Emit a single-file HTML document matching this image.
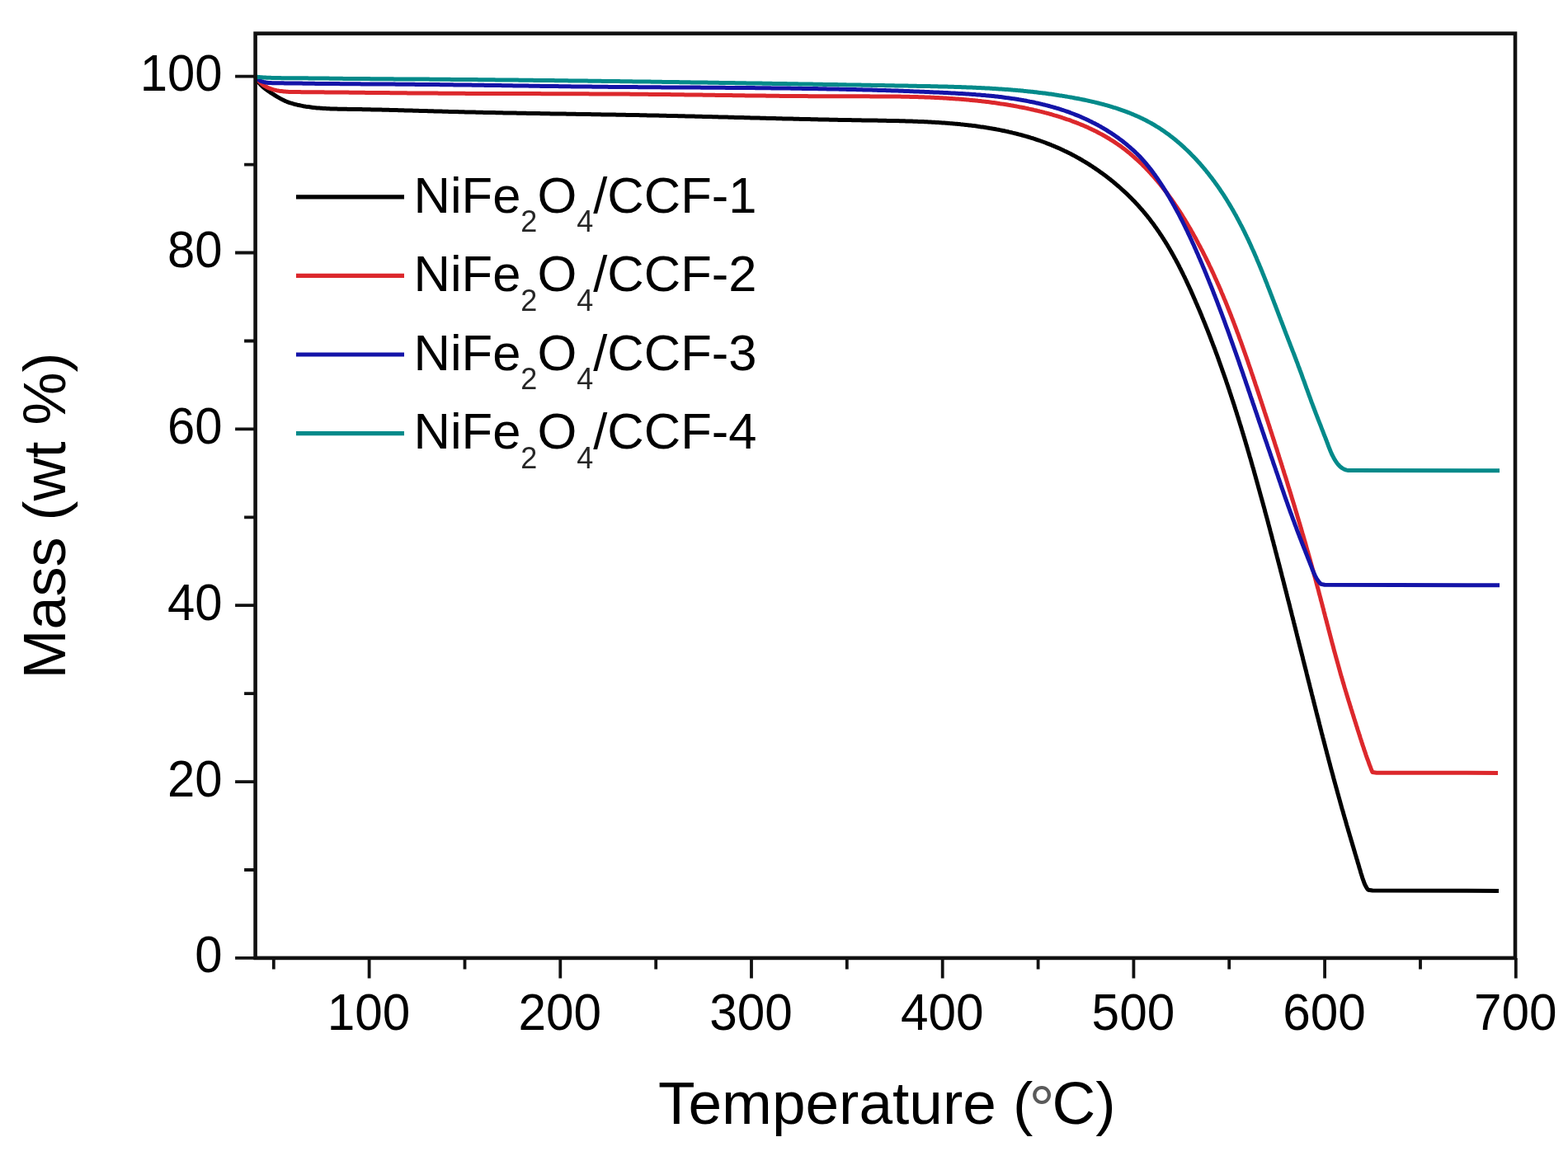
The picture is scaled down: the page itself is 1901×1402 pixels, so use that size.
<!DOCTYPE html>
<html><head><meta charset="utf-8"><title>TGA curves</title>
<style>html,body{margin:0;padding:0;background:#fff;}svg{display:block;}</style>
</head><body>
<svg width="1901" height="1402" viewBox="0 0 1901 1402"><rect width="1901" height="1402" fill="#fff"/><path d="M310.0,93.0L310.5,94.5L311.1,95.8L311.8,97.2L312.5,98.4L313.4,99.7L314.3,100.8L315.3,101.9L316.3,103.0L317.4,104.1L318.5,105.1L319.6,106.1L320.7,107.0L321.9,107.9L323.1,108.8L324.3,109.7L325.5,110.6L326.8,111.4L328.0,112.3L329.3,113.1L330.6,113.9L331.8,114.7L333.1,115.5L334.4,116.3L335.7,117.1L337.0,117.9L338.3,118.6L339.6,119.4L340.9,120.1L342.2,120.8L343.6,121.4L344.9,122.1L346.3,122.7L347.7,123.3L349.1,123.8L350.5,124.3L351.9,124.8L353.3,125.2L354.8,125.7L356.2,126.1L357.7,126.5L359.1,126.8L360.6,127.2L362.0,127.5L363.5,127.8L365.0,128.1L366.4,128.4L367.9,128.7L369.4,128.9L370.8,129.2L372.3,129.4L373.8,129.6L375.3,129.8L376.8,130.0L378.2,130.2L379.7,130.4L381.2,130.6L382.7,130.7L384.2,130.9L385.7,131.0L387.2,131.1L388.7,131.2L390.2,131.3L391.7,131.4L393.1,131.5L394.6,131.6L396.1,131.7L397.6,131.8L399.1,131.8L400.6,131.9L402.1,132.0L403.6,132.0L405.2,132.1L406.7,132.1L408.2,132.1L409.7,132.2L411.2,132.2L412.7,132.2L414.2,132.3L415.7,132.3L417.2,132.3L418.7,132.3L420.2,132.3L421.7,132.4L423.2,132.4L424.7,132.4L426.2,132.4L427.7,132.5L429.2,132.5L430.7,132.5L432.2,132.5L433.7,132.5L435.2,132.6L436.7,132.6L438.2,132.6L439.7,132.7L441.2,132.7L442.7,132.7L444.2,132.7L445.7,132.8L447.2,132.8L448.7,132.8L450.2,132.9L451.7,132.9L453.2,132.9L454.7,133.0L456.2,133.0L457.7,133.0L459.2,133.1L460.7,133.1L462.2,133.1L463.7,133.2L465.2,133.2L466.7,133.2L468.2,133.3L469.7,133.3L471.2,133.3L472.7,133.4L474.2,133.4L475.7,133.5L477.2,133.5L478.7,133.5L480.2,133.6L481.6,133.6L483.1,133.7L484.6,133.7L486.1,133.7L487.6,133.8L489.1,133.8L490.6,133.9L492.1,133.9L493.6,133.9L495.1,134.0L496.6,134.0L498.1,134.1L499.6,134.1L501.1,134.2L502.6,134.2L504.1,134.2L505.6,134.3L507.0,134.3L508.5,134.4L510.0,134.4L511.5,134.4L513.0,134.5L514.5,134.5L516.0,134.6L517.5,134.6L519.0,134.7L520.5,134.7L522.0,134.7L523.5,134.8L525.0,134.8L526.5,134.9L528.0,134.9L529.5,135.0L531.0,135.0L532.5,135.0L533.9,135.1L535.4,135.1L536.9,135.2L538.4,135.2L539.9,135.2L541.4,135.3L542.9,135.3L544.4,135.4L545.9,135.4L547.4,135.4L548.9,135.5L550.4,135.5L551.9,135.6L553.4,135.6L554.9,135.6L556.4,135.7L557.9,135.7L559.4,135.7L560.9,135.8L562.4,135.8L563.9,135.9L565.4,135.9L566.9,135.9L568.4,136.0L569.9,136.0L571.4,136.0L572.9,136.1L574.4,136.1L575.9,136.1L577.4,136.2L578.9,136.2L580.4,136.2L581.9,136.3L583.4,136.3L584.9,136.3L586.4,136.4L587.9,136.4L589.4,136.4L590.9,136.5L592.4,136.5L593.9,136.5L595.4,136.6L596.9,136.6L598.4,136.6L599.9,136.6L601.4,136.7L602.9,136.7L604.4,136.7L605.9,136.8L607.4,136.8L608.9,136.8L610.4,136.9L611.9,136.9L613.4,136.9L615.0,136.9L616.5,137.0L618.0,137.0L619.5,137.0L621.0,137.0L622.5,137.1L624.0,137.1L625.5,137.1L627.0,137.2L628.5,137.2L630.0,137.2L631.5,137.2L633.0,137.3L634.5,137.3L636.0,137.3L637.5,137.3L639.0,137.4L640.5,137.4L642.0,137.4L643.5,137.5L645.0,137.5L646.6,137.5L648.1,137.5L649.6,137.6L651.1,137.6L652.6,137.6L654.1,137.6L655.6,137.7L657.1,137.7L658.6,137.7L660.1,137.7L661.6,137.8L663.1,137.8L664.6,137.8L666.1,137.8L667.6,137.9L669.1,137.9L670.6,137.9L672.1,137.9L673.7,138.0L675.2,138.0L676.7,138.0L678.2,138.0L679.7,138.0L681.2,138.1L682.7,138.1L684.2,138.1L685.7,138.1L687.2,138.2L688.7,138.2L690.2,138.2L691.7,138.2L693.2,138.3L694.7,138.3L696.2,138.3L697.7,138.3L699.2,138.4L700.7,138.4L702.3,138.4L703.8,138.4L705.3,138.5L706.8,138.5L708.3,138.5L709.8,138.5L711.3,138.6L712.8,138.6L714.3,138.6L715.8,138.6L717.3,138.7L718.8,138.7L720.3,138.7L721.8,138.7L723.3,138.8L724.8,138.8L726.3,138.8L727.8,138.8L729.3,138.9L730.8,138.9L732.3,138.9L733.8,138.9L735.3,139.0L736.9,139.0L738.4,139.0L739.9,139.0L741.4,139.1L742.9,139.1L744.4,139.1L745.9,139.1L747.4,139.2L748.9,139.2L750.4,139.2L751.9,139.2L753.4,139.3L754.9,139.3L756.4,139.3L757.9,139.3L759.4,139.4L760.9,139.4L762.4,139.4L763.9,139.5L765.4,139.5L766.9,139.5L768.4,139.5L769.9,139.6L771.4,139.6L772.9,139.6L774.4,139.6L775.9,139.7L777.4,139.7L778.9,139.7L780.4,139.8L781.9,139.8L783.4,139.8L784.9,139.9L786.4,139.9L787.9,139.9L789.4,139.9L790.9,140.0L792.4,140.0L793.9,140.0L795.4,140.1L796.8,140.1L798.3,140.1L799.8,140.2L801.3,140.2L802.8,140.2L804.3,140.3L805.8,140.3L807.3,140.3L808.8,140.4L810.3,140.4L811.8,140.4L813.3,140.5L814.8,140.5L816.3,140.5L817.8,140.6L819.3,140.6L820.8,140.6L822.3,140.7L823.7,140.7L825.2,140.7L826.7,140.8L828.2,140.8L829.7,140.8L831.2,140.9L832.7,140.9L834.2,140.9L835.7,141.0L837.2,141.0L838.7,141.0L840.2,141.1L841.7,141.1L843.1,141.2L844.6,141.2L846.1,141.2L847.6,141.3L849.1,141.3L850.6,141.3L852.1,141.4L853.6,141.4L855.1,141.4L856.6,141.5L858.0,141.5L859.5,141.6L861.0,141.6L862.5,141.6L864.0,141.7L865.5,141.7L867.0,141.8L868.5,141.8L870.0,141.8L871.5,141.9L872.9,141.9L874.4,141.9L875.9,142.0L877.4,142.0L878.9,142.1L880.4,142.1L881.9,142.1L883.4,142.2L884.9,142.2L886.4,142.2L887.8,142.3L889.3,142.3L890.8,142.4L892.3,142.4L893.8,142.4L895.3,142.5L896.8,142.5L898.3,142.6L899.8,142.6L901.3,142.6L902.7,142.7L904.2,142.7L905.7,142.8L907.2,142.8L908.7,142.8L910.2,142.9L911.7,142.9L913.2,142.9L914.7,143.0L916.2,143.0L917.7,143.1L919.1,143.1L920.6,143.1L922.1,143.2L923.6,143.2L925.1,143.3L926.6,143.3L928.1,143.3L929.6,143.4L931.1,143.4L932.6,143.4L934.1,143.5L935.6,143.5L937.0,143.6L938.5,143.6L940.0,143.6L941.5,143.7L943.0,143.7L944.5,143.7L946.0,143.8L947.5,143.8L949.0,143.9L950.5,143.9L952.0,143.9L953.5,144.0L955.0,144.0L956.5,144.0L958.0,144.1L959.5,144.1L960.9,144.1L962.4,144.2L963.9,144.2L965.4,144.3L966.9,144.3L968.4,144.3L969.9,144.4L971.4,144.4L972.9,144.4L974.4,144.5L975.9,144.5L977.4,144.5L978.9,144.6L980.4,144.6L981.9,144.6L983.4,144.7L984.9,144.7L986.4,144.7L987.9,144.8L989.4,144.8L990.9,144.8L992.4,144.9L993.9,144.9L995.4,144.9L996.9,145.0L998.4,145.0L999.9,145.0L1001.4,145.1L1002.9,145.1L1004.4,145.1L1005.9,145.2L1007.4,145.2L1008.9,145.2L1010.4,145.2L1011.9,145.3L1013.5,145.3L1015.0,145.3L1016.5,145.4L1018.0,145.4L1019.5,145.4L1021.0,145.5L1022.5,145.5L1024.0,145.5L1025.5,145.5L1027.0,145.6L1028.5,145.6L1030.0,145.6L1031.5,145.6L1033.1,145.7L1034.6,145.7L1036.1,145.7L1037.6,145.7L1039.1,145.8L1040.6,145.8L1042.1,145.8L1043.6,145.8L1045.2,145.9L1046.7,145.9L1048.2,145.9L1049.7,145.9L1051.2,146.0L1052.7,146.0L1054.2,146.0L1055.8,146.0L1057.3,146.1L1058.8,146.1L1060.3,146.1L1061.8,146.1L1063.3,146.1L1064.9,146.2L1066.4,146.2L1067.9,146.2L1069.4,146.2L1070.9,146.3L1072.5,146.3L1074.0,146.3L1075.5,146.4L1077.0,146.4L1078.5,146.4L1080.1,146.4L1081.6,146.5L1083.1,146.5L1084.6,146.5L1086.1,146.6L1087.7,146.6L1089.2,146.6L1090.7,146.7L1092.2,146.7L1093.7,146.7L1095.2,146.8L1096.8,146.8L1098.3,146.9L1099.8,146.9L1101.3,147.0L1102.8,147.0L1104.4,147.1L1105.9,147.1L1107.4,147.2L1108.9,147.2L1110.4,147.3L1111.9,147.3L1113.5,147.4L1115.0,147.4L1116.5,147.5L1118.0,147.6L1119.5,147.6L1121.0,147.7L1122.5,147.8L1124.1,147.8L1125.6,147.9L1127.1,148.0L1128.6,148.1L1130.1,148.2L1131.6,148.2L1133.1,148.3L1134.6,148.4L1136.1,148.5L1137.7,148.6L1139.2,148.7L1140.7,148.8L1142.2,148.9L1143.7,149.0L1145.2,149.1L1146.7,149.2L1148.2,149.3L1149.7,149.4L1151.2,149.6L1152.7,149.7L1154.2,149.8L1155.7,149.9L1157.2,150.1L1158.7,150.2L1160.2,150.3L1161.7,150.5L1163.2,150.6L1164.7,150.8L1166.2,150.9L1167.7,151.1L1169.1,151.2L1170.6,151.4L1172.1,151.6L1173.6,151.7L1175.1,151.9L1176.6,152.1L1178.1,152.3L1179.6,152.5L1181.0,152.6L1182.5,152.8L1184.0,153.0L1185.5,153.2L1187.0,153.4L1188.4,153.7L1189.9,153.9L1191.4,154.1L1192.9,154.3L1194.3,154.5L1195.8,154.8L1197.3,155.0L1198.7,155.2L1200.2,155.5L1201.7,155.7L1203.1,156.0L1204.6,156.2L1206.0,156.5L1207.5,156.8L1209.0,157.1L1210.4,157.3L1211.9,157.6L1213.3,157.9L1214.8,158.2L1216.2,158.5L1217.7,158.8L1219.1,159.1L1220.6,159.4L1222.0,159.7L1223.5,160.1L1224.9,160.4L1226.3,160.7L1227.8,161.1L1229.2,161.4L1230.6,161.8L1232.1,162.1L1233.5,162.5L1234.9,162.9L1236.4,163.2L1237.8,163.6L1239.2,164.0L1240.6,164.4L1242.0,164.8L1243.5,165.2L1244.9,165.6L1246.3,166.0L1247.7,166.4L1249.1,166.9L1250.5,167.3L1251.9,167.7L1253.3,168.2L1254.7,168.6L1256.1,169.1L1257.5,169.6L1258.9,170.0L1260.3,170.5L1261.7,171.0L1263.1,171.5L1264.5,172.0L1265.9,172.5L1267.3,173.0L1268.6,173.6L1270.0,174.1L1271.4,174.6L1272.8,175.2L1274.1,175.7L1275.5,176.3L1276.9,176.8L1278.2,177.4L1279.6,178.0L1281.0,178.6L1282.3,179.1L1283.7,179.7L1285.0,180.3L1286.4,181.0L1287.7,181.6L1289.1,182.2L1290.4,182.9L1291.7,183.5L1293.1,184.1L1294.4,184.8L1295.8,185.5L1297.1,186.1L1298.4,186.8L1299.7,187.5L1301.1,188.2L1302.4,188.9L1303.7,189.6L1305.0,190.3L1306.3,191.1L1307.6,191.8L1308.9,192.5L1310.2,193.3L1311.5,194.0L1312.8,194.8L1314.1,195.6L1315.4,196.3L1316.7,197.1L1317.9,197.9L1319.2,198.7L1320.5,199.5L1321.8,200.3L1323.0,201.1L1324.3,201.9L1325.5,202.8L1326.8,203.6L1328.0,204.5L1329.3,205.3L1330.5,206.2L1331.7,207.0L1333.0,207.9L1334.2,208.8L1335.4,209.6L1336.7,210.5L1337.9,211.4L1339.1,212.3L1340.3,213.2L1341.5,214.1L1342.7,215.1L1343.9,216.0L1345.1,216.9L1346.2,217.8L1347.4,218.8L1348.6,219.7L1349.8,220.7L1350.9,221.7L1352.1,222.6L1353.2,223.6L1354.4,224.6L1355.5,225.6L1356.7,226.5L1357.8,227.5L1358.9,228.5L1360.0,229.6L1361.2,230.6L1362.3,231.6L1363.4,232.6L1364.5,233.6L1365.6,234.7L1366.7,235.7L1367.8,236.8L1368.8,237.8L1369.9,238.9L1371.0,239.9L1372.0,241.0L1373.1,242.1L1374.1,243.2L1375.2,244.2L1376.2,245.3L1377.2,246.4L1378.3,247.5L1379.3,248.6L1380.3,249.7L1381.3,250.9L1382.3,252.0L1383.3,253.1L1384.3,254.2L1385.3,255.4L1386.2,256.5L1387.2,257.7L1388.2,258.8L1389.1,260.0L1390.1,261.1L1391.0,262.3L1391.9,263.5L1392.9,264.6L1393.8,265.8L1394.7,267.0L1395.6,268.2L1396.5,269.4L1397.4,270.6L1398.3,271.8L1399.2,273.0L1400.0,274.2L1400.9,275.4L1401.8,276.6L1402.6,277.8L1403.5,279.1L1404.3,280.3L1405.2,281.5L1406.0,282.8L1406.8,284.0L1407.7,285.3L1408.5,286.5L1409.3,287.8L1410.1,289.0L1410.9,290.3L1411.7,291.5L1412.5,292.8L1413.3,294.1L1414.1,295.4L1414.9,296.6L1415.6,297.9L1416.4,299.2L1417.2,300.5L1417.9,301.8L1418.7,303.1L1419.4,304.4L1420.2,305.7L1420.9,307.0L1421.6,308.3L1422.4,309.6L1423.1,310.9L1423.8,312.2L1424.5,313.5L1425.3,314.8L1426.0,316.2L1426.7,317.5L1427.4,318.8L1428.1,320.1L1428.8,321.5L1429.5,322.8L1430.1,324.1L1430.8,325.5L1431.5,326.8L1432.2,328.2L1432.8,329.5L1433.5,330.8L1434.2,332.2L1434.8,333.5L1435.5,334.9L1436.2,336.2L1436.8,337.6L1437.5,339.0L1438.1,340.3L1438.7,341.7L1439.4,343.0L1440.0,344.4L1440.6,345.8L1441.3,347.1L1441.9,348.5L1442.5,349.9L1443.2,351.2L1443.8,352.6L1444.4,354.0L1445.0,355.4L1445.6,356.7L1446.2,358.1L1446.8,359.5L1447.4,360.9L1448.0,362.2L1448.6,363.6L1449.2,365.0L1449.8,366.4L1450.4,367.8L1451.0,369.1L1451.6,370.5L1452.2,371.9L1452.8,373.3L1453.4,374.7L1454.0,376.1L1454.6,377.4L1455.1,378.8L1455.7,380.2L1456.3,381.6L1456.9,383.0L1457.4,384.4L1458.0,385.8L1458.6,387.2L1459.1,388.5L1459.7,389.9L1460.3,391.3L1460.8,392.7L1461.4,394.1L1461.9,395.5L1462.5,396.9L1463.1,398.3L1463.6,399.7L1464.2,401.1L1464.7,402.5L1465.3,403.9L1465.8,405.3L1466.4,406.7L1466.9,408.1L1467.4,409.5L1468.0,410.9L1468.5,412.3L1469.0,413.7L1469.6,415.1L1470.1,416.5L1470.6,417.9L1471.2,419.3L1471.7,420.7L1472.2,422.1L1472.8,423.5L1473.3,424.9L1473.8,426.3L1474.3,427.7L1474.8,429.1L1475.4,430.5L1475.9,431.9L1476.4,433.3L1476.9,434.7L1477.4,436.1L1477.9,437.6L1478.4,439.0L1478.9,440.4L1479.4,441.8L1479.9,443.2L1480.4,444.6L1480.9,446.0L1481.4,447.4L1481.9,448.9L1482.4,450.3L1482.9,451.7L1483.4,453.1L1483.9,454.5L1484.4,455.9L1484.9,457.3L1485.4,458.8L1485.9,460.2L1486.4,461.6L1486.8,463.0L1487.3,464.4L1487.8,465.8L1488.3,467.3L1488.8,468.7L1489.2,470.1L1489.7,471.5L1490.2,472.9L1490.7,474.4L1491.1,475.8L1491.6,477.2L1492.1,478.6L1492.5,480.1L1493.0,481.5L1493.5,482.9L1493.9,484.3L1494.4,485.7L1494.9,487.2L1495.3,488.6L1495.8,490.0L1496.3,491.4L1496.7,492.9L1497.2,494.3L1497.6,495.7L1498.1,497.2L1498.5,498.6L1499.0,500.0L1499.4,501.4L1499.9,502.9L1500.3,504.3L1500.8,505.7L1501.2,507.2L1501.7,508.6L1502.1,510.0L1502.6,511.5L1503.0,512.9L1503.4,514.3L1503.9,515.7L1504.3,517.2L1504.8,518.6L1505.2,520.0L1505.6,521.5L1506.1,522.9L1506.5,524.3L1506.9,525.8L1507.4,527.2L1507.8,528.6L1508.2,530.1L1508.7,531.5L1509.1,533.0L1509.5,534.4L1510.0,535.8L1510.4,537.3L1510.8,538.7L1511.2,540.1L1511.7,541.6L1512.1,543.0L1512.5,544.4L1512.9,545.9L1513.3,547.3L1513.8,548.8L1514.2,550.2L1514.6,551.6L1515.0,553.1L1515.4,554.5L1515.9,556.0L1516.3,557.4L1516.7,558.8L1517.1,560.3L1517.5,561.7L1517.9,563.2L1518.3,564.6L1518.7,566.0L1519.2,567.5L1519.6,568.9L1520.0,570.4L1520.4,571.8L1520.8,573.3L1521.2,574.7L1521.6,576.1L1522.0,577.6L1522.4,579.0L1522.8,580.5L1523.2,581.9L1523.6,583.4L1524.0,584.8L1524.4,586.2L1524.8,587.7L1525.2,589.1L1525.6,590.6L1526.0,592.0L1526.4,593.5L1526.8,594.9L1527.2,596.4L1527.6,597.8L1528.0,599.3L1528.4,600.7L1528.8,602.1L1529.2,603.6L1529.6,605.0L1530.0,606.5L1530.4,607.9L1530.8,609.4L1531.2,610.8L1531.6,612.3L1532.0,613.7L1532.4,615.2L1532.8,616.6L1533.2,618.1L1533.5,619.5L1533.9,621.0L1534.3,622.4L1534.7,623.9L1535.1,625.3L1535.5,626.7L1535.9,628.2L1536.3,629.6L1536.7,631.1L1537.1,632.5L1537.4,634.0L1537.8,635.4L1538.2,636.9L1538.6,638.3L1539.0,639.8L1539.4,641.2L1539.8,642.7L1540.1,644.1L1540.5,645.6L1540.9,647.0L1541.3,648.5L1541.7,649.9L1542.1,651.4L1542.4,652.8L1542.8,654.3L1543.2,655.7L1543.6,657.2L1544.0,658.6L1544.3,660.1L1544.7,661.5L1545.1,663.0L1545.5,664.4L1545.9,665.9L1546.2,667.3L1546.6,668.8L1547.0,670.3L1547.4,671.7L1547.8,673.2L1548.1,674.6L1548.5,676.1L1548.9,677.5L1549.3,679.0L1549.6,680.4L1550.0,681.9L1550.4,683.3L1550.8,684.8L1551.1,686.2L1551.5,687.7L1551.9,689.1L1552.3,690.6L1552.6,692.0L1553.0,693.5L1553.4,694.9L1553.8,696.4L1554.1,697.8L1554.5,699.3L1554.9,700.8L1555.2,702.2L1555.6,703.7L1556.0,705.1L1556.4,706.6L1556.7,708.0L1557.1,709.5L1557.5,710.9L1557.8,712.4L1558.2,713.8L1558.6,715.3L1559.0,716.7L1559.3,718.2L1559.7,719.6L1560.1,721.1L1560.4,722.6L1560.8,724.0L1561.2,725.5L1561.5,726.9L1561.9,728.4L1562.3,729.8L1562.7,731.3L1563.0,732.7L1563.4,734.2L1563.8,735.6L1564.1,737.1L1564.5,738.6L1564.9,740.0L1565.2,741.5L1565.6,742.9L1566.0,744.4L1566.3,745.8L1566.7,747.3L1567.1,748.7L1567.4,750.2L1567.8,751.6L1568.2,753.1L1568.5,754.6L1568.9,756.0L1569.3,757.5L1569.6,758.9L1570.0,760.4L1570.4,761.8L1570.7,763.3L1571.1,764.7L1571.5,766.2L1571.8,767.6L1572.2,769.1L1572.5,770.6L1572.9,772.0L1573.3,773.5L1573.6,774.9L1574.0,776.4L1574.4,777.8L1574.7,779.3L1575.1,780.7L1575.5,782.2L1575.8,783.7L1576.2,785.1L1576.6,786.6L1576.9,788.0L1577.3,789.5L1577.7,790.9L1578.0,792.4L1578.4,793.8L1578.8,795.3L1579.1,796.7L1579.5,798.2L1579.8,799.7L1580.2,801.1L1580.6,802.6L1580.9,804.0L1581.3,805.5L1581.7,806.9L1582.0,808.4L1582.4,809.8L1582.8,811.3L1583.1,812.7L1583.5,814.2L1583.9,815.7L1584.2,817.1L1584.6,818.6L1584.9,820.0L1585.3,821.5L1585.7,822.9L1586.0,824.4L1586.4,825.8L1586.8,827.3L1587.1,828.7L1587.5,830.2L1587.9,831.6L1588.2,833.1L1588.6,834.6L1589.0,836.0L1589.3,837.5L1589.7,838.9L1590.1,840.4L1590.4,841.8L1590.8,843.3L1591.2,844.7L1591.5,846.2L1591.9,847.6L1592.3,849.1L1592.6,850.5L1593.0,852.0L1593.4,853.5L1593.7,854.9L1594.1,856.4L1594.5,857.8L1594.8,859.3L1595.2,860.7L1595.6,862.2L1595.9,863.6L1596.3,865.1L1596.7,866.5L1597.0,868.0L1597.4,869.4L1597.8,870.9L1598.2,872.3L1598.5,873.8L1598.9,875.2L1599.3,876.7L1599.6,878.1L1600.0,879.6L1600.4,881.1L1600.7,882.5L1601.1,884.0L1601.5,885.4L1601.9,886.9L1602.2,888.3L1602.6,889.8L1603.0,891.2L1603.4,892.7L1603.7,894.1L1604.1,895.6L1604.5,897.0L1604.9,898.5L1605.2,899.9L1605.6,901.4L1606.0,902.8L1606.4,904.3L1606.7,905.7L1607.1,907.2L1607.5,908.6L1607.9,910.1L1608.3,911.5L1608.6,913.0L1609.0,914.4L1609.4,915.9L1609.8,917.3L1610.2,918.8L1610.5,920.2L1610.9,921.7L1611.3,923.1L1611.7,924.6L1612.1,926.0L1612.5,927.5L1612.8,928.9L1613.2,930.4L1613.6,931.8L1614.0,933.3L1614.4,934.7L1614.8,936.2L1615.2,937.6L1615.6,939.1L1616.0,940.5L1616.3,942.0L1616.7,943.4L1617.1,944.9L1617.5,946.3L1617.9,947.7L1618.3,949.2L1618.7,950.6L1619.1,952.1L1619.5,953.5L1619.9,955.0L1620.3,956.4L1620.7,957.9L1621.1,959.3L1621.5,960.8L1621.9,962.2L1622.3,963.7L1622.7,965.1L1623.1,966.6L1623.5,968.0L1623.9,969.4L1624.3,970.9L1624.7,972.3L1625.1,973.8L1625.5,975.2L1625.9,976.7L1626.3,978.1L1626.7,979.6L1627.1,981.0L1627.6,982.5L1628.0,983.9L1628.4,985.3L1628.8,986.8L1629.2,988.2L1629.6,989.7L1630.0,991.1L1630.4,992.6L1630.9,994.0L1631.3,995.4L1631.7,996.9L1632.1,998.3L1632.5,999.8L1632.9,1001.2L1633.4,1002.7L1633.8,1004.1L1634.2,1005.5L1634.6,1007.0L1635.0,1008.4L1635.5,1009.9L1635.9,1011.3L1636.3,1012.7L1636.7,1014.2L1637.2,1015.6L1637.6,1017.0L1638.0,1018.5L1638.4,1019.9L1638.9,1021.4L1639.3,1022.8L1639.7,1024.2L1640.1,1025.7L1640.6,1027.1L1641.0,1028.5L1641.4,1030.0L1641.8,1031.4L1642.3,1032.8L1642.7,1034.3L1643.1,1035.7L1643.6,1037.2L1644.0,1038.6L1644.4,1040.0L1644.8,1041.5L1645.3,1042.9L1645.7,1044.3L1646.1,1045.8L1646.5,1047.2L1647.0,1048.6L1647.4,1050.1L1647.8,1051.5L1648.2,1053.0L1648.7,1054.4L1649.1,1055.8L1649.5,1057.3L1649.9,1058.7L1650.4,1060.2L1650.8,1061.6L1651.3,1063.0L1651.7,1064.5L1652.2,1065.9L1652.7,1067.3L1653.2,1068.7L1653.7,1070.1L1654.2,1071.5L1654.8,1072.9L1655.5,1074.2L1656.2,1075.6L1656.9,1076.8L1657.8,1078.1L1658.7,1079.2L1664.0,1079.9L1817.0,1080.4" fill="none" stroke="#000000" stroke-width="5.0" stroke-linejoin="round" stroke-linecap="butt"/><path d="M309.8,92.9L310.7,94.3L311.6,95.6L312.5,96.9L313.5,98.0L314.5,99.2L315.6,100.2L316.7,101.2L317.9,102.1L319.0,103.0L320.3,103.8L321.5,104.6L322.8,105.3L324.1,106.0L325.5,106.6L326.8,107.1L328.2,107.7L329.6,108.1L331.1,108.6L332.5,109.0L333.9,109.3L335.4,109.7L336.9,109.9L338.3,110.2L339.8,110.4L341.3,110.6L342.8,110.8L344.3,111.0L345.8,111.1L347.2,111.2L348.8,111.3L350.3,111.4L351.8,111.5L353.3,111.5L354.8,111.6L356.3,111.6L357.8,111.6L359.3,111.6L360.8,111.6L362.3,111.6L363.9,111.6L365.4,111.7L366.9,111.7L368.4,111.7L369.9,111.7L371.4,111.7L372.9,111.7L374.4,111.7L375.9,111.7L377.4,111.7L378.9,111.7L380.4,111.7L381.9,111.8L383.4,111.8L384.9,111.8L386.4,111.8L387.9,111.8L389.4,111.8L390.9,111.8L392.4,111.8L393.9,111.9L395.4,111.9L396.9,111.9L398.4,111.9L399.9,111.9L401.4,111.9L402.9,111.9L404.4,112.0L405.9,112.0L407.4,112.0L408.9,112.0L410.4,112.0L411.9,112.0L413.4,112.0L414.9,112.1L416.3,112.1L417.8,112.1L419.3,112.1L420.8,112.1L422.3,112.1L423.8,112.2L425.3,112.2L426.8,112.2L428.3,112.2L429.8,112.2L431.3,112.2L432.8,112.3L434.3,112.3L435.8,112.3L437.3,112.3L438.8,112.3L440.3,112.3L441.8,112.3L443.3,112.4L444.8,112.4L446.3,112.4L447.8,112.4L449.3,112.4L450.7,112.4L452.2,112.5L453.7,112.5L455.2,112.5L456.7,112.5L458.2,112.5L459.7,112.5L461.2,112.5L462.7,112.6L464.2,112.6L465.7,112.6L467.2,112.6L468.7,112.6L470.2,112.6L471.7,112.6L473.2,112.7L474.7,112.7L476.2,112.7L477.7,112.7L479.2,112.7L480.7,112.7L482.2,112.8L483.7,112.8L485.2,112.8L486.7,112.8L488.2,112.8L489.7,112.8L491.2,112.8L492.7,112.8L494.2,112.9L495.7,112.9L497.2,112.9L498.7,112.9L500.2,112.9L501.7,112.9L503.2,112.9L504.7,113.0L506.2,113.0L507.8,113.0L509.3,113.0L510.8,113.0L512.3,113.0L513.8,113.0L515.3,113.0L516.8,113.0L518.3,113.1L519.8,113.1L521.3,113.1L522.8,113.1L524.3,113.1L525.8,113.1L527.3,113.1L528.8,113.1L530.3,113.1L531.8,113.2L533.3,113.2L534.8,113.2L536.3,113.2L537.8,113.2L539.3,113.2L540.8,113.2L542.3,113.2L543.8,113.2L545.3,113.2L546.8,113.3L548.3,113.3L549.8,113.3L551.3,113.3L552.8,113.3L554.3,113.3L555.8,113.3L557.3,113.3L558.8,113.3L560.3,113.3L561.8,113.3L563.3,113.3L564.8,113.4L566.3,113.4L567.8,113.4L569.3,113.4L570.8,113.4L572.3,113.4L573.8,113.4L575.3,113.4L576.8,113.4L578.3,113.4L579.8,113.4L581.3,113.4L582.8,113.4L584.3,113.4L585.8,113.4L587.4,113.4L588.9,113.5L590.4,113.5L591.9,113.5L593.4,113.5L594.9,113.5L596.4,113.5L597.9,113.5L599.4,113.5L600.9,113.5L602.4,113.5L603.9,113.5L605.4,113.5L606.9,113.5L608.4,113.5L609.9,113.5L611.4,113.5L612.9,113.5L614.4,113.5L615.9,113.5L617.4,113.5L618.9,113.5L620.4,113.6L621.9,113.6L623.4,113.6L624.9,113.6L626.4,113.6L627.9,113.6L629.4,113.6L630.9,113.6L632.4,113.6L633.9,113.6L635.4,113.6L636.9,113.6L638.4,113.6L639.9,113.6L641.4,113.6L642.9,113.6L644.4,113.6L645.9,113.6L647.4,113.6L648.9,113.6L650.4,113.6L651.9,113.6L653.4,113.6L654.9,113.6L656.4,113.7L657.9,113.7L659.4,113.7L660.9,113.7L662.4,113.7L663.9,113.7L665.4,113.7L666.9,113.7L668.4,113.7L669.9,113.7L671.4,113.7L672.9,113.7L674.4,113.7L675.9,113.7L677.4,113.7L678.9,113.7L680.4,113.7L681.9,113.7L683.4,113.7L684.9,113.7L686.4,113.7L687.9,113.7L689.4,113.8L690.9,113.8L692.4,113.8L693.9,113.8L695.4,113.8L696.9,113.8L698.4,113.8L699.9,113.8L701.4,113.8L702.9,113.8L704.4,113.8L705.9,113.8L707.4,113.8L708.9,113.8L710.4,113.8L711.9,113.8L713.4,113.8L714.9,113.9L716.4,113.9L717.9,113.9L719.4,113.9L720.9,113.9L722.4,113.9L723.9,113.9L725.4,113.9L726.9,113.9L728.4,113.9L729.9,113.9L731.4,113.9L732.9,113.9L734.4,113.9L735.9,114.0L737.4,114.0L738.9,114.0L740.4,114.0L741.9,114.0L743.4,114.0L744.9,114.0L746.4,114.0L747.9,114.0L749.4,114.0L750.9,114.1L752.4,114.1L753.9,114.1L755.4,114.1L756.9,114.1L758.4,114.1L759.9,114.1L761.4,114.1L762.9,114.1L764.4,114.2L765.9,114.2L767.4,114.2L768.9,114.2L770.4,114.2L771.9,114.2L773.4,114.2L774.9,114.2L776.4,114.3L777.9,114.3L779.4,114.3L780.8,114.3L782.3,114.3L783.8,114.3L785.3,114.3L786.8,114.4L788.3,114.4L789.8,114.4L791.3,114.4L792.8,114.4L794.3,114.4L795.8,114.4L797.3,114.5L798.8,114.5L800.3,114.5L801.8,114.5L803.3,114.5L804.8,114.5L806.3,114.6L807.8,114.6L809.3,114.6L810.8,114.6L812.3,114.6L813.8,114.7L815.3,114.7L816.8,114.7L818.3,114.7L819.8,114.7L821.3,114.7L822.8,114.8L824.3,114.8L825.8,114.8L827.3,114.8L828.8,114.8L830.3,114.9L831.8,114.9L833.3,114.9L834.8,114.9L836.3,114.9L837.8,115.0L839.3,115.0L840.8,115.0L842.3,115.0L843.8,115.0L845.3,115.1L846.7,115.1L848.2,115.1L849.7,115.1L851.2,115.1L852.7,115.2L854.2,115.2L855.7,115.2L857.2,115.2L858.7,115.2L860.2,115.3L861.7,115.3L863.2,115.3L864.7,115.3L866.2,115.3L867.7,115.4L869.2,115.4L870.7,115.4L872.2,115.4L873.7,115.4L875.2,115.5L876.7,115.5L878.2,115.5L879.7,115.5L881.2,115.6L882.7,115.6L884.2,115.6L885.7,115.6L887.2,115.6L888.7,115.7L890.2,115.7L891.7,115.7L893.2,115.7L894.7,115.7L896.2,115.8L897.7,115.8L899.2,115.8L900.7,115.8L902.2,115.8L903.7,115.9L905.2,115.9L906.7,115.9L908.2,115.9L909.7,115.9L911.2,115.9L912.7,116.0L914.2,116.0L915.7,116.0L917.2,116.0L918.7,116.0L920.2,116.1L921.7,116.1L923.2,116.1L924.7,116.1L926.2,116.1L927.7,116.1L929.2,116.2L930.7,116.2L932.2,116.2L933.7,116.2L935.2,116.2L936.7,116.3L938.2,116.3L939.7,116.3L941.2,116.3L942.7,116.3L944.2,116.3L945.7,116.4L947.2,116.4L948.7,116.4L950.2,116.4L951.7,116.4L953.2,116.4L954.7,116.4L956.2,116.5L957.7,116.5L959.2,116.5L960.7,116.5L962.2,116.5L963.7,116.5L965.2,116.5L966.7,116.5L968.2,116.6L969.7,116.6L971.2,116.6L972.7,116.6L974.2,116.6L975.7,116.6L977.2,116.6L978.7,116.6L980.2,116.7L981.7,116.7L983.2,116.7L984.7,116.7L986.2,116.7L987.7,116.7L989.2,116.7L990.7,116.7L992.2,116.7L993.7,116.7L995.2,116.7L996.7,116.7L998.2,116.8L999.7,116.8L1001.2,116.8L1002.7,116.8L1004.2,116.8L1005.7,116.8L1007.2,116.8L1008.7,116.8L1010.2,116.8L1011.7,116.8L1013.2,116.8L1014.7,116.8L1016.2,116.8L1017.7,116.8L1019.2,116.8L1020.8,116.8L1022.3,116.8L1023.8,116.8L1025.3,116.8L1026.8,116.8L1028.3,116.8L1029.8,116.8L1031.3,116.8L1032.8,116.8L1034.3,116.8L1035.8,116.8L1037.3,116.8L1038.8,116.8L1040.3,116.8L1041.8,116.8L1043.3,116.8L1044.8,116.8L1046.3,116.8L1047.8,116.8L1049.3,116.8L1050.9,116.8L1052.4,116.8L1053.9,116.8L1055.4,116.9L1056.9,116.9L1058.4,116.9L1059.9,116.9L1061.4,116.9L1062.9,116.9L1064.4,116.9L1065.9,116.9L1067.4,116.9L1068.9,116.9L1070.4,116.9L1071.9,116.9L1073.4,116.9L1074.9,117.0L1076.4,117.0L1077.9,117.0L1079.4,117.0L1081.0,117.0L1082.5,117.0L1084.0,117.0L1085.5,117.1L1087.0,117.1L1088.5,117.1L1090.0,117.1L1091.5,117.1L1093.0,117.2L1094.5,117.2L1096.0,117.2L1097.5,117.3L1099.0,117.3L1100.5,117.3L1102.0,117.3L1103.5,117.4L1105.0,117.4L1106.5,117.5L1108.0,117.5L1109.5,117.5L1111.0,117.6L1112.5,117.6L1114.0,117.7L1115.5,117.7L1117.0,117.7L1118.5,117.8L1120.0,117.8L1121.5,117.9L1123.0,118.0L1124.5,118.0L1126.0,118.1L1127.5,118.1L1129.0,118.2L1130.5,118.3L1132.0,118.3L1133.5,118.4L1135.0,118.5L1136.5,118.5L1138.0,118.6L1139.5,118.7L1141.0,118.8L1142.5,118.8L1144.0,118.9L1145.5,119.0L1147.0,119.1L1148.5,119.2L1150.0,119.3L1151.5,119.4L1152.9,119.5L1154.4,119.6L1155.9,119.7L1157.4,119.8L1158.9,119.9L1160.4,120.0L1161.9,120.1L1163.4,120.2L1164.9,120.3L1166.4,120.5L1167.9,120.6L1169.4,120.7L1170.9,120.8L1172.3,121.0L1173.8,121.1L1175.3,121.2L1176.8,121.4L1178.3,121.5L1179.8,121.7L1181.3,121.8L1182.8,122.0L1184.2,122.1L1185.7,122.3L1187.2,122.4L1188.7,122.6L1190.2,122.8L1191.7,122.9L1193.1,123.1L1194.6,123.3L1196.1,123.5L1197.6,123.6L1199.1,123.8L1200.6,124.0L1202.0,124.2L1203.5,124.4L1205.0,124.6L1206.5,124.8L1208.0,125.0L1209.4,125.2L1210.9,125.4L1212.4,125.7L1213.9,125.9L1215.3,126.1L1216.8,126.3L1218.3,126.6L1219.8,126.8L1221.2,127.0L1222.7,127.3L1224.2,127.5L1225.7,127.8L1227.1,128.0L1228.6,128.3L1230.1,128.6L1231.5,128.8L1233.0,129.1L1234.5,129.4L1235.9,129.7L1237.4,129.9L1238.9,130.2L1240.3,130.5L1241.8,130.8L1243.3,131.1L1244.7,131.4L1246.2,131.7L1247.7,132.1L1249.1,132.4L1250.6,132.7L1252.1,133.0L1253.5,133.4L1255.0,133.7L1256.4,134.0L1257.9,134.4L1259.4,134.7L1260.8,135.1L1262.3,135.4L1263.7,135.8L1265.2,136.2L1266.6,136.6L1268.1,136.9L1269.5,137.3L1271.0,137.7L1272.4,138.1L1273.9,138.5L1275.3,138.9L1276.7,139.3L1278.2,139.8L1279.6,140.2L1281.0,140.6L1282.5,141.0L1283.9,141.5L1285.3,141.9L1286.8,142.4L1288.2,142.9L1289.6,143.3L1291.0,143.8L1292.4,144.3L1293.9,144.8L1295.3,145.2L1296.7,145.7L1298.1,146.2L1299.5,146.8L1300.9,147.3L1302.3,147.8L1303.7,148.3L1305.1,148.9L1306.5,149.4L1307.9,150.0L1309.2,150.5L1310.6,151.1L1312.0,151.7L1313.4,152.2L1314.7,152.8L1316.1,153.4L1317.5,154.0L1318.8,154.6L1320.2,155.3L1321.5,155.9L1322.9,156.5L1324.2,157.2L1325.6,157.8L1326.9,158.5L1328.2,159.1L1329.6,159.8L1330.9,160.5L1332.2,161.2L1333.5,161.9L1334.8,162.6L1336.2,163.3L1337.5,164.0L1338.8,164.7L1340.0,165.5L1341.3,166.2L1342.6,167.0L1343.9,167.7L1345.2,168.5L1346.4,169.3L1347.7,170.1L1349.0,170.9L1350.2,171.7L1351.5,172.5L1352.7,173.3L1354.0,174.2L1355.2,175.0L1356.4,175.9L1357.6,176.7L1358.9,177.6L1360.1,178.5L1361.3,179.4L1362.5,180.3L1363.7,181.2L1364.9,182.1L1366.0,183.1L1367.2,184.0L1368.4,184.9L1369.6,185.9L1370.7,186.9L1371.9,187.8L1373.0,188.8L1374.2,189.8L1375.3,190.8L1376.4,191.8L1377.5,192.8L1378.7,193.8L1379.8,194.9L1380.9,195.9L1382.0,196.9L1383.1,198.0L1384.2,199.0L1385.3,200.1L1386.3,201.2L1387.4,202.2L1388.5,203.3L1389.5,204.4L1390.6,205.5L1391.6,206.6L1392.7,207.7L1393.7,208.8L1394.7,209.9L1395.7,211.0L1396.8,212.2L1397.8,213.3L1398.8,214.4L1399.8,215.6L1400.8,216.7L1401.7,217.9L1402.7,219.0L1403.7,220.2L1404.7,221.3L1405.6,222.5L1406.6,223.7L1407.5,224.8L1408.4,226.0L1409.4,227.2L1410.3,228.4L1411.2,229.6L1412.1,230.7L1413.1,231.9L1414.0,233.1L1414.9,234.3L1415.7,235.5L1416.6,236.7L1417.5,238.0L1418.4,239.2L1419.3,240.4L1420.1,241.6L1421.0,242.8L1421.8,244.1L1422.7,245.3L1423.5,246.5L1424.4,247.8L1425.2,249.0L1426.1,250.2L1426.9,251.5L1427.7,252.7L1428.5,254.0L1429.3,255.2L1430.2,256.5L1431.0,257.7L1431.8,259.0L1432.6,260.2L1433.4,261.5L1434.1,262.8L1434.9,264.0L1435.7,265.3L1436.5,266.6L1437.3,267.9L1438.0,269.1L1438.8,270.4L1439.6,271.7L1440.3,273.0L1441.1,274.3L1441.8,275.5L1442.6,276.8L1443.3,278.1L1444.1,279.4L1444.8,280.7L1445.6,282.0L1446.3,283.3L1447.0,284.6L1447.7,285.9L1448.5,287.2L1449.2,288.5L1449.9,289.8L1450.6,291.1L1451.3,292.4L1452.0,293.7L1452.7,295.1L1453.4,296.4L1454.1,297.7L1454.8,299.0L1455.5,300.3L1456.2,301.7L1456.9,303.0L1457.6,304.3L1458.3,305.6L1458.9,307.0L1459.6,308.3L1460.3,309.6L1461.0,311.0L1461.6,312.3L1462.3,313.6L1462.9,315.0L1463.6,316.3L1464.3,317.6L1464.9,319.0L1465.6,320.3L1466.2,321.7L1466.8,323.0L1467.5,324.4L1468.1,325.7L1468.8,327.1L1469.4,328.4L1470.0,329.8L1470.7,331.1L1471.3,332.5L1471.9,333.8L1472.5,335.2L1473.1,336.6L1473.7,337.9L1474.4,339.3L1475.0,340.7L1475.6,342.0L1476.2,343.4L1476.8,344.8L1477.4,346.1L1478.0,347.5L1478.6,348.9L1479.2,350.2L1479.8,351.6L1480.4,353.0L1480.9,354.4L1481.5,355.8L1482.1,357.1L1482.7,358.5L1483.3,359.9L1483.8,361.3L1484.4,362.7L1485.0,364.0L1485.6,365.4L1486.1,366.8L1486.7,368.2L1487.3,369.6L1487.8,371.0L1488.4,372.4L1488.9,373.8L1489.5,375.2L1490.0,376.6L1490.6,378.0L1491.1,379.3L1491.7,380.7L1492.2,382.1L1492.8,383.5L1493.3,384.9L1493.9,386.3L1494.4,387.7L1494.9,389.1L1495.5,390.5L1496.0,391.9L1496.6,393.4L1497.1,394.8L1497.6,396.2L1498.1,397.6L1498.7,399.0L1499.2,400.4L1499.7,401.8L1500.2,403.2L1500.8,404.6L1501.3,406.0L1501.8,407.4L1502.3,408.8L1502.8,410.3L1503.3,411.7L1503.9,413.1L1504.4,414.5L1504.9,415.9L1505.4,417.3L1505.9,418.8L1506.4,420.2L1506.9,421.6L1507.4,423.0L1507.9,424.4L1508.4,425.8L1508.9,427.3L1509.4,428.7L1509.9,430.1L1510.4,431.5L1510.9,432.9L1511.4,434.4L1511.9,435.8L1512.4,437.2L1512.9,438.6L1513.3,440.1L1513.8,441.5L1514.3,442.9L1514.8,444.3L1515.3,445.8L1515.8,447.2L1516.3,448.6L1516.8,450.0L1517.2,451.5L1517.7,452.9L1518.2,454.3L1518.7,455.7L1519.2,457.2L1519.6,458.6L1520.1,460.0L1520.6,461.4L1521.1,462.9L1521.6,464.3L1522.0,465.7L1522.5,467.2L1523.0,468.6L1523.5,470.0L1523.9,471.4L1524.4,472.9L1524.9,474.3L1525.4,475.7L1525.8,477.1L1526.3,478.6L1526.8,480.0L1527.2,481.4L1527.7,482.9L1528.2,484.3L1528.7,485.7L1529.1,487.1L1529.6,488.6L1530.1,490.0L1530.5,491.4L1531.0,492.9L1531.5,494.3L1531.9,495.7L1532.4,497.1L1532.9,498.6L1533.3,500.0L1533.8,501.4L1534.3,502.8L1534.7,504.3L1535.2,505.7L1535.7,507.1L1536.1,508.6L1536.6,510.0L1537.1,511.4L1537.5,512.8L1538.0,514.3L1538.5,515.7L1538.9,517.1L1539.4,518.5L1539.8,520.0L1540.3,521.4L1540.8,522.8L1541.2,524.3L1541.7,525.7L1542.2,527.1L1542.6,528.5L1543.1,530.0L1543.5,531.4L1544.0,532.8L1544.5,534.2L1544.9,535.7L1545.4,537.1L1545.8,538.5L1546.3,540.0L1546.7,541.4L1547.2,542.8L1547.7,544.2L1548.1,545.7L1548.6,547.1L1549.0,548.5L1549.5,550.0L1549.9,551.4L1550.4,552.8L1550.8,554.2L1551.3,555.7L1551.7,557.1L1552.2,558.5L1552.6,559.9L1553.1,561.4L1553.6,562.8L1554.0,564.2L1554.5,565.7L1554.9,567.1L1555.3,568.5L1555.8,569.9L1556.2,571.4L1556.7,572.8L1557.1,574.2L1557.6,575.7L1558.0,577.1L1558.5,578.5L1558.9,579.9L1559.4,581.4L1559.8,582.8L1560.3,584.2L1560.7,585.7L1561.1,587.1L1561.6,588.5L1562.0,590.0L1562.5,591.4L1562.9,592.8L1563.3,594.3L1563.8,595.7L1564.2,597.1L1564.7,598.5L1565.1,600.0L1565.5,601.4L1566.0,602.8L1566.4,604.3L1566.8,605.7L1567.3,607.1L1567.7,608.6L1568.2,610.0L1568.6,611.4L1569.0,612.9L1569.5,614.3L1569.9,615.7L1570.3,617.2L1570.7,618.6L1571.2,620.0L1571.6,621.5L1572.0,622.9L1572.5,624.3L1572.9,625.8L1573.3,627.2L1573.7,628.6L1574.2,630.1L1574.6,631.5L1575.0,632.9L1575.4,634.4L1575.9,635.8L1576.3,637.2L1576.7,638.7L1577.1,640.1L1577.6,641.6L1578.0,643.0L1578.4,644.4L1578.8,645.9L1579.2,647.3L1579.7,648.7L1580.1,650.2L1580.5,651.6L1580.9,653.0L1581.3,654.5L1581.7,655.9L1582.2,657.4L1582.6,658.8L1583.0,660.2L1583.4,661.7L1583.8,663.1L1584.2,664.6L1584.6,666.0L1585.0,667.4L1585.4,668.9L1585.9,670.3L1586.3,671.8L1586.7,673.2L1587.1,674.7L1587.5,676.1L1587.9,677.5L1588.3,679.0L1588.7,680.4L1589.1,681.9L1589.5,683.3L1589.9,684.8L1590.3,686.2L1590.7,687.6L1591.1,689.1L1591.5,690.5L1591.9,692.0L1592.3,693.4L1592.7,694.9L1593.1,696.3L1593.5,697.8L1593.9,699.2L1594.3,700.7L1594.7,702.1L1595.1,703.6L1595.5,705.0L1595.8,706.4L1596.2,707.9L1596.6,709.3L1597.0,710.8L1597.4,712.2L1597.8,713.7L1598.2,715.1L1598.6,716.6L1598.9,718.0L1599.3,719.5L1599.7,721.0L1600.1,722.4L1600.5,723.9L1600.9,725.3L1601.2,726.8L1601.6,728.2L1602.0,729.7L1602.4,731.1L1602.8,732.6L1603.1,734.0L1603.5,735.5L1603.9,736.9L1604.3,738.4L1604.7,739.8L1605.0,741.3L1605.4,742.8L1605.8,744.2L1606.2,745.7L1606.5,747.1L1606.9,748.6L1607.3,750.0L1607.7,751.5L1608.1,752.9L1608.4,754.4L1608.8,755.8L1609.2,757.3L1609.6,758.7L1610.0,760.2L1610.3,761.7L1610.7,763.1L1611.1,764.6L1611.5,766.0L1611.9,767.5L1612.2,768.9L1612.6,770.4L1613.0,771.8L1613.4,773.3L1613.8,774.7L1614.1,776.2L1614.5,777.6L1614.9,779.1L1615.3,780.6L1615.7,782.0L1616.1,783.5L1616.5,784.9L1616.8,786.4L1617.2,787.8L1617.6,789.3L1618.0,790.7L1618.4,792.2L1618.8,793.6L1619.2,795.1L1619.6,796.5L1620.0,798.0L1620.4,799.4L1620.8,800.9L1621.2,802.3L1621.6,803.7L1622.0,805.2L1622.4,806.6L1622.8,808.1L1623.2,809.5L1623.6,811.0L1624.0,812.4L1624.4,813.9L1624.8,815.3L1625.2,816.8L1625.6,818.2L1626.0,819.6L1626.4,821.1L1626.9,822.5L1627.3,824.0L1627.7,825.4L1628.1,826.8L1628.5,828.3L1629.0,829.7L1629.4,831.1L1629.8,832.6L1630.2,834.0L1630.7,835.5L1631.1,836.9L1631.5,838.3L1632.0,839.8L1632.4,841.2L1632.8,842.6L1633.3,844.1L1633.7,845.5L1634.1,846.9L1634.6,848.4L1635.0,849.8L1635.5,851.2L1635.9,852.6L1636.4,854.1L1636.8,855.5L1637.2,856.9L1637.7,858.4L1638.1,859.8L1638.6,861.2L1639.0,862.7L1639.5,864.1L1639.9,865.5L1640.4,866.9L1640.8,868.4L1641.3,869.8L1641.7,871.2L1642.2,872.7L1642.6,874.1L1643.1,875.5L1643.5,876.9L1644.0,878.4L1644.4,879.8L1644.9,881.2L1645.3,882.7L1645.8,884.1L1646.2,885.5L1646.7,887.0L1647.2,888.4L1647.6,889.8L1648.1,891.2L1648.5,892.7L1649.0,894.1L1649.4,895.5L1649.9,897.0L1650.4,898.4L1650.8,899.8L1651.3,901.2L1651.7,902.7L1652.2,904.1L1652.7,905.5L1653.2,906.9L1653.6,908.4L1654.1,909.8L1654.6,911.2L1655.1,912.6L1655.6,914.1L1656.0,915.5L1656.5,916.9L1657.0,918.3L1657.5,919.7L1658.0,921.1L1658.6,922.5L1659.1,923.9L1659.6,925.4L1660.1,926.8L1660.6,928.2L1661.2,929.6L1661.7,931.0L1662.2,932.4L1662.8,933.8L1663.3,935.2L1663.9,936.5L1669.0,937.2L1816.0,937.4" fill="none" stroke="#dc282c" stroke-width="5.0" stroke-linejoin="round" stroke-linecap="butt"/><path d="M309.7,93.2L310.8,94.4L311.9,95.5L313.0,96.4L314.3,97.2L315.5,97.9L316.8,98.5L318.2,99.0L319.6,99.4L321.0,99.7L322.4,100.0L323.9,100.2L325.4,100.4L326.9,100.5L328.4,100.6L329.9,100.7L331.4,100.7L332.9,100.7L334.5,100.7L336.0,100.8L337.5,100.8L339.0,100.8L340.5,100.8L342.0,100.8L343.5,100.8L345.0,100.9L346.5,100.9L348.0,100.9L349.5,100.9L351.0,100.9L352.5,101.0L354.0,101.0L355.5,101.0L357.0,101.0L358.5,101.0L360.0,101.1L361.5,101.1L363.0,101.1L364.5,101.1L366.0,101.1L367.5,101.2L369.0,101.2L370.4,101.2L371.9,101.2L373.4,101.2L374.9,101.3L376.4,101.3L377.9,101.3L379.4,101.3L380.9,101.3L382.4,101.4L383.9,101.4L385.4,101.4L386.9,101.4L388.4,101.4L389.9,101.4L391.4,101.4L392.9,101.5L394.4,101.5L395.9,101.5L397.4,101.5L398.9,101.5L400.4,101.5L402.0,101.6L403.5,101.6L405.0,101.6L406.5,101.6L408.0,101.6L409.5,101.6L411.0,101.6L412.5,101.7L414.0,101.7L415.5,101.7L417.0,101.7L418.5,101.7L420.0,101.7L421.5,101.7L423.0,101.7L424.5,101.8L426.0,101.8L427.5,101.8L428.9,101.8L430.4,101.8L431.9,101.8L433.4,101.8L434.9,101.8L436.4,101.8L437.9,101.9L439.4,101.9L440.9,101.9L442.4,101.9L443.9,101.9L445.4,101.9L446.9,101.9L448.4,101.9L449.9,101.9L451.4,102.0L452.9,102.0L454.4,102.0L455.9,102.0L457.4,102.0L458.9,102.0L460.4,102.0L461.9,102.0L463.4,102.0L464.9,102.1L466.4,102.1L467.9,102.1L469.4,102.1L470.9,102.1L472.4,102.1L473.9,102.1L475.4,102.1L476.9,102.1L478.4,102.1L479.9,102.2L481.3,102.2L482.8,102.2L484.3,102.2L485.8,102.2L487.3,102.2L488.8,102.2L490.3,102.2L491.8,102.3L493.3,102.3L494.8,102.3L496.3,102.3L497.8,102.3L499.3,102.3L500.8,102.3L502.3,102.3L503.8,102.4L505.3,102.4L506.8,102.4L508.3,102.4L509.8,102.4L511.3,102.4L512.8,102.4L514.3,102.5L515.8,102.5L517.3,102.5L518.8,102.5L520.3,102.5L521.8,102.5L523.3,102.5L524.8,102.6L526.3,102.6L527.8,102.6L529.3,102.6L530.8,102.6L532.3,102.6L533.8,102.7L535.3,102.7L536.8,102.7L538.3,102.7L539.8,102.7L541.3,102.7L542.8,102.8L544.3,102.8L545.8,102.8L547.3,102.8L548.8,102.8L550.3,102.9L551.8,102.9L553.3,102.9L554.8,102.9L556.3,102.9L557.8,103.0L559.3,103.0L560.8,103.0L562.3,103.0L563.8,103.0L565.3,103.1L566.8,103.1L568.3,103.1L569.8,103.1L571.3,103.1L572.8,103.2L574.3,103.2L575.8,103.2L577.3,103.2L578.8,103.2L580.3,103.3L581.8,103.3L583.3,103.3L584.8,103.3L586.3,103.3L587.8,103.4L589.3,103.4L590.8,103.4L592.3,103.4L593.8,103.4L595.3,103.5L596.8,103.5L598.3,103.5L599.8,103.5L601.3,103.6L602.8,103.6L604.3,103.6L605.8,103.6L607.3,103.6L608.8,103.7L610.3,103.7L611.8,103.7L613.3,103.7L614.8,103.8L616.3,103.8L617.8,103.8L619.3,103.8L620.8,103.8L622.3,103.9L623.8,103.9L625.3,103.9L626.8,103.9L628.3,104.0L629.8,104.0L631.3,104.0L632.8,104.0L634.3,104.0L635.8,104.1L637.3,104.1L638.8,104.1L640.3,104.1L641.8,104.2L643.4,104.2L644.9,104.2L646.4,104.2L647.9,104.2L649.4,104.3L650.9,104.3L652.4,104.3L653.9,104.3L655.4,104.4L656.9,104.4L658.4,104.4L659.9,104.4L661.4,104.4L662.9,104.5L664.4,104.5L665.9,104.5L667.4,104.5L668.9,104.5L670.4,104.6L671.9,104.6L673.4,104.6L674.9,104.6L676.4,104.6L677.9,104.7L679.4,104.7L680.9,104.7L682.4,104.7L683.9,104.7L685.4,104.8L686.9,104.8L688.4,104.8L689.9,104.8L691.4,104.8L692.9,104.9L694.4,104.9L695.9,104.9L697.4,104.9L698.9,104.9L700.4,105.0L701.9,105.0L703.4,105.0L704.9,105.0L706.4,105.0L707.9,105.0L709.4,105.1L710.9,105.1L712.4,105.1L713.9,105.1L715.4,105.1L716.9,105.1L718.4,105.2L719.9,105.2L721.4,105.2L722.9,105.2L724.4,105.2L725.9,105.2L727.4,105.3L728.9,105.3L730.4,105.3L731.9,105.3L733.4,105.3L734.9,105.3L736.4,105.3L737.9,105.4L739.4,105.4L740.9,105.4L742.4,105.4L743.9,105.4L745.4,105.4L746.9,105.4L748.4,105.5L749.9,105.5L751.4,105.5L752.9,105.5L754.4,105.5L755.9,105.5L757.4,105.5L758.9,105.5L760.4,105.6L761.9,105.6L763.4,105.6L764.9,105.6L766.4,105.6L767.9,105.6L769.4,105.6L770.9,105.6L772.4,105.6L773.9,105.7L775.4,105.7L776.9,105.7L778.4,105.7L779.9,105.7L781.4,105.7L782.9,105.7L784.4,105.7L785.9,105.7L787.4,105.8L788.9,105.8L790.4,105.8L791.8,105.8L793.3,105.8L794.8,105.8L796.3,105.8L797.8,105.8L799.3,105.8L800.8,105.8L802.3,105.9L803.8,105.9L805.3,105.9L806.8,105.9L808.3,105.9L809.8,105.9L811.3,105.9L812.8,105.9L814.3,105.9L815.8,105.9L817.3,105.9L818.8,106.0L820.3,106.0L821.8,106.0L823.3,106.0L824.8,106.0L826.3,106.0L827.8,106.0L829.3,106.0L830.8,106.0L832.3,106.0L833.8,106.1L835.2,106.1L836.7,106.1L838.2,106.1L839.7,106.1L841.2,106.1L842.7,106.1L844.2,106.1L845.7,106.1L847.2,106.1L848.7,106.1L850.2,106.2L851.7,106.2L853.2,106.2L854.7,106.2L856.2,106.2L857.7,106.2L859.2,106.2L860.7,106.2L862.2,106.2L863.7,106.2L865.2,106.3L866.7,106.3L868.2,106.3L869.7,106.3L871.2,106.3L872.6,106.3L874.1,106.3L875.6,106.3L877.1,106.3L878.6,106.3L880.1,106.4L881.6,106.4L883.1,106.4L884.6,106.4L886.1,106.4L887.6,106.4L889.1,106.4L890.6,106.4L892.1,106.5L893.6,106.5L895.1,106.5L896.6,106.5L898.1,106.5L899.6,106.5L901.1,106.5L902.6,106.5L904.1,106.6L905.6,106.6L907.1,106.6L908.6,106.6L910.0,106.6L911.5,106.6L913.0,106.6L914.5,106.6L916.0,106.7L917.5,106.7L919.0,106.7L920.5,106.7L922.0,106.7L923.5,106.7L925.0,106.8L926.5,106.8L928.0,106.8L929.5,106.8L931.0,106.8L932.5,106.8L934.0,106.8L935.5,106.9L937.0,106.9L938.5,106.9L940.0,106.9L941.5,106.9L943.0,107.0L944.5,107.0L946.0,107.0L947.5,107.0L949.0,107.0L950.5,107.0L952.0,107.1L953.4,107.1L954.9,107.1L956.4,107.1L957.9,107.1L959.4,107.2L960.9,107.2L962.4,107.2L963.9,107.2L965.4,107.2L966.9,107.3L968.4,107.3L969.9,107.3L971.4,107.3L972.9,107.4L974.4,107.4L975.9,107.4L977.4,107.4L978.9,107.4L980.4,107.5L981.9,107.5L983.4,107.5L984.9,107.5L986.4,107.6L987.9,107.6L989.4,107.6L990.9,107.6L992.4,107.7L993.9,107.7L995.4,107.7L996.9,107.8L998.4,107.8L999.9,107.8L1001.4,107.8L1002.9,107.9L1004.4,107.9L1005.9,107.9L1007.4,108.0L1008.9,108.0L1010.4,108.0L1011.9,108.0L1013.4,108.1L1014.9,108.1L1016.4,108.1L1017.9,108.2L1019.4,108.2L1020.9,108.2L1022.4,108.3L1023.9,108.3L1025.4,108.3L1026.9,108.4L1028.4,108.4L1029.9,108.4L1031.4,108.5L1032.9,108.5L1034.4,108.6L1035.9,108.6L1037.4,108.6L1038.9,108.7L1040.4,108.7L1041.9,108.7L1043.4,108.8L1044.9,108.8L1046.4,108.9L1047.9,108.9L1049.4,108.9L1050.9,109.0L1052.4,109.0L1053.9,109.1L1055.4,109.1L1056.9,109.1L1058.4,109.2L1059.9,109.2L1061.4,109.3L1062.9,109.3L1064.4,109.4L1065.9,109.4L1067.4,109.4L1068.9,109.5L1070.4,109.5L1071.9,109.6L1073.4,109.6L1074.9,109.7L1076.4,109.7L1077.9,109.8L1079.4,109.8L1080.9,109.9L1082.4,109.9L1083.9,110.0L1085.4,110.0L1086.9,110.1L1088.4,110.1L1089.9,110.2L1091.4,110.2L1093.0,110.3L1094.5,110.3L1096.0,110.4L1097.5,110.5L1099.0,110.5L1100.5,110.6L1102.0,110.6L1103.5,110.7L1105.0,110.7L1106.5,110.8L1108.0,110.9L1109.5,110.9L1111.0,111.0L1112.5,111.0L1114.0,111.1L1115.5,111.2L1117.0,111.2L1118.5,111.3L1120.0,111.3L1121.6,111.4L1123.1,111.5L1124.6,111.5L1126.1,111.6L1127.6,111.7L1129.1,111.7L1130.6,111.8L1132.1,111.9L1133.6,111.9L1135.1,112.0L1136.6,112.1L1138.1,112.1L1139.6,112.2L1141.1,112.3L1142.7,112.3L1144.2,112.4L1145.7,112.5L1147.2,112.6L1148.7,112.6L1150.2,112.7L1151.7,112.8L1153.2,112.9L1154.7,113.0L1156.2,113.0L1157.7,113.1L1159.2,113.2L1160.8,113.3L1162.3,113.4L1163.8,113.5L1165.3,113.5L1166.8,113.6L1168.3,113.7L1169.8,113.8L1171.3,113.9L1172.8,114.0L1174.3,114.1L1175.8,114.2L1177.3,114.3L1178.8,114.4L1180.3,114.5L1181.8,114.6L1183.3,114.8L1184.8,114.9L1186.3,115.0L1187.8,115.1L1189.3,115.2L1190.8,115.4L1192.3,115.5L1193.8,115.6L1195.3,115.8L1196.8,115.9L1198.3,116.0L1199.8,116.2L1201.3,116.3L1202.8,116.5L1204.3,116.6L1205.8,116.8L1207.3,117.0L1208.8,117.1L1210.3,117.3L1211.7,117.5L1213.2,117.6L1214.7,117.8L1216.2,118.0L1217.7,118.2L1219.2,118.4L1220.6,118.6L1222.1,118.8L1223.6,119.0L1225.1,119.2L1226.6,119.4L1228.0,119.6L1229.5,119.8L1231.0,120.1L1232.5,120.3L1233.9,120.5L1235.4,120.8L1236.9,121.0L1238.3,121.3L1239.8,121.5L1241.3,121.8L1242.7,122.0L1244.2,122.3L1245.6,122.6L1247.1,122.9L1248.5,123.2L1250.0,123.4L1251.5,123.7L1252.9,124.0L1254.4,124.3L1255.8,124.7L1257.2,125.0L1258.7,125.3L1260.1,125.6L1261.6,126.0L1263.0,126.3L1264.4,126.7L1265.9,127.0L1267.3,127.4L1268.7,127.7L1270.2,128.1L1271.6,128.5L1273.0,128.9L1274.4,129.3L1275.9,129.7L1277.3,130.1L1278.7,130.5L1280.1,130.9L1281.5,131.3L1282.9,131.7L1284.3,132.2L1285.8,132.6L1287.2,133.1L1288.6,133.5L1290.0,134.0L1291.4,134.5L1292.7,135.0L1294.1,135.4L1295.5,135.9L1296.9,136.4L1298.3,137.0L1299.7,137.5L1301.1,138.0L1302.4,138.5L1303.8,139.1L1305.2,139.6L1306.6,140.2L1307.9,140.7L1309.3,141.3L1310.7,141.9L1312.0,142.5L1313.4,143.1L1314.7,143.7L1316.1,144.3L1317.4,144.9L1318.8,145.6L1320.1,146.2L1321.5,146.9L1322.8,147.5L1324.1,148.2L1325.5,148.9L1326.8,149.5L1328.1,150.2L1329.4,150.9L1330.8,151.6L1332.1,152.4L1333.4,153.1L1334.7,153.8L1336.0,154.6L1337.3,155.3L1338.6,156.1L1339.9,156.9L1341.2,157.7L1342.5,158.5L1343.8,159.3L1345.1,160.1L1346.3,160.9L1347.6,161.7L1348.9,162.6L1350.2,163.4L1351.4,164.3L1352.7,165.2L1353.9,166.1L1355.2,166.9L1356.4,167.8L1357.6,168.8L1358.9,169.7L1360.1,170.6L1361.3,171.5L1362.5,172.5L1363.7,173.4L1364.9,174.4L1366.1,175.3L1367.2,176.3L1368.4,177.3L1369.6,178.3L1370.7,179.3L1371.8,180.3L1373.0,181.3L1374.1,182.3L1375.2,183.4L1376.3,184.4L1377.4,185.5L1378.5,186.5L1379.5,187.6L1380.6,188.7L1381.7,189.7L1382.7,190.8L1383.7,191.9L1384.7,193.0L1385.7,194.1L1386.7,195.3L1387.7,196.4L1388.7,197.5L1389.7,198.7L1390.6,199.8L1391.6,201.0L1392.5,202.1L1393.4,203.3L1394.3,204.4L1395.3,205.6L1396.2,206.8L1397.1,208.0L1398.0,209.2L1398.8,210.4L1399.7,211.6L1400.6,212.8L1401.4,214.0L1402.3,215.2L1403.1,216.4L1404.0,217.7L1404.8,218.9L1405.6,220.1L1406.5,221.4L1407.3,222.6L1408.1,223.8L1408.9,225.1L1409.7,226.3L1410.5,227.6L1411.3,228.9L1412.1,230.1L1412.8,231.4L1413.6,232.7L1414.4,233.9L1415.2,235.2L1415.9,236.5L1416.7,237.8L1417.4,239.0L1418.2,240.3L1418.9,241.6L1419.7,242.9L1420.4,244.2L1421.2,245.5L1421.9,246.8L1422.6,248.1L1423.4,249.4L1424.1,250.7L1424.8,252.0L1425.5,253.3L1426.2,254.6L1426.9,255.9L1427.7,257.3L1428.4,258.6L1429.1,259.9L1429.8,261.2L1430.4,262.5L1431.1,263.9L1431.8,265.2L1432.5,266.5L1433.2,267.9L1433.9,269.2L1434.5,270.5L1435.2,271.9L1435.9,273.2L1436.5,274.6L1437.2,275.9L1437.8,277.3L1438.5,278.6L1439.2,280.0L1439.8,281.3L1440.4,282.7L1441.1,284.0L1441.7,285.4L1442.4,286.7L1443.0,288.1L1443.6,289.4L1444.3,290.8L1444.9,292.2L1445.5,293.5L1446.1,294.9L1446.8,296.3L1447.4,297.6L1448.0,299.0L1448.6,300.4L1449.2,301.7L1449.8,303.1L1450.4,304.5L1451.0,305.9L1451.6,307.2L1452.3,308.6L1452.8,310.0L1453.4,311.4L1454.0,312.8L1454.6,314.1L1455.2,315.5L1455.8,316.9L1456.4,318.3L1457.0,319.7L1457.6,321.0L1458.1,322.4L1458.7,323.8L1459.3,325.2L1459.9,326.6L1460.5,328.0L1461.0,329.4L1461.6,330.7L1462.2,332.1L1462.7,333.5L1463.3,334.9L1463.9,336.3L1464.4,337.7L1465.0,339.1L1465.6,340.5L1466.1,341.9L1466.7,343.3L1467.2,344.6L1467.8,346.0L1468.4,347.4L1468.9,348.8L1469.5,350.2L1470.0,351.6L1470.6,353.0L1471.1,354.4L1471.6,355.8L1472.2,357.2L1472.7,358.6L1473.3,360.0L1473.8,361.4L1474.4,362.8L1474.9,364.2L1475.4,365.6L1476.0,367.0L1476.5,368.4L1477.0,369.8L1477.6,371.2L1478.1,372.6L1478.6,374.0L1479.2,375.4L1479.7,376.8L1480.2,378.2L1480.7,379.6L1481.3,381.0L1481.8,382.4L1482.3,383.8L1482.8,385.2L1483.3,386.6L1483.9,388.0L1484.4,389.4L1484.9,390.8L1485.4,392.3L1485.9,393.7L1486.4,395.1L1486.9,396.5L1487.5,397.9L1488.0,399.3L1488.5,400.7L1489.0,402.1L1489.5,403.5L1490.0,404.9L1490.5,406.3L1491.0,407.7L1491.5,409.2L1492.0,410.6L1492.5,412.0L1493.0,413.4L1493.5,414.8L1494.0,416.2L1494.5,417.6L1495.0,419.0L1495.5,420.5L1496.0,421.9L1496.5,423.3L1497.0,424.7L1497.5,426.1L1498.0,427.5L1498.5,428.9L1499.0,430.3L1499.5,431.8L1500.0,433.2L1500.5,434.6L1501.0,436.0L1501.5,437.4L1502.0,438.8L1502.5,440.3L1502.9,441.7L1503.4,443.1L1503.9,444.5L1504.4,445.9L1504.9,447.3L1505.4,448.8L1505.9,450.2L1506.4,451.6L1506.9,453.0L1507.3,454.4L1507.8,455.8L1508.3,457.3L1508.8,458.7L1509.3,460.1L1509.8,461.5L1510.2,462.9L1510.7,464.3L1511.2,465.8L1511.7,467.2L1512.2,468.6L1512.7,470.0L1513.1,471.4L1513.6,472.9L1514.1,474.3L1514.6,475.7L1515.1,477.1L1515.6,478.5L1516.0,480.0L1516.5,481.4L1517.0,482.8L1517.5,484.2L1518.0,485.6L1518.5,487.1L1518.9,488.5L1519.4,489.9L1519.9,491.3L1520.4,492.7L1520.9,494.2L1521.3,495.6L1521.8,497.0L1522.3,498.4L1522.8,499.8L1523.3,501.3L1523.8,502.7L1524.2,504.1L1524.7,505.5L1525.2,506.9L1525.7,508.4L1526.2,509.8L1526.6,511.2L1527.1,512.6L1527.6,514.0L1528.1,515.4L1528.6,516.9L1529.1,518.3L1529.6,519.7L1530.0,521.1L1530.5,522.5L1531.0,524.0L1531.5,525.4L1532.0,526.8L1532.5,528.2L1532.9,529.6L1533.4,531.1L1533.9,532.5L1534.4,533.9L1534.9,535.3L1535.4,536.7L1535.9,538.2L1536.4,539.6L1536.8,541.0L1537.3,542.4L1537.8,543.8L1538.3,545.3L1538.8,546.7L1539.3,548.1L1539.8,549.5L1540.2,550.9L1540.7,552.3L1541.2,553.8L1541.7,555.2L1542.2,556.6L1542.7,558.0L1543.2,559.4L1543.6,560.9L1544.1,562.3L1544.6,563.7L1545.1,565.1L1545.6,566.5L1546.1,568.0L1546.6,569.4L1547.0,570.8L1547.5,572.2L1548.0,573.6L1548.5,575.0L1549.0,576.5L1549.5,577.9L1549.9,579.3L1550.4,580.7L1550.9,582.1L1551.4,583.6L1551.9,585.0L1552.4,586.4L1552.8,587.8L1553.3,589.2L1553.8,590.6L1554.3,592.1L1554.8,593.5L1555.3,594.9L1555.8,596.3L1556.3,597.7L1556.7,599.1L1557.2,600.5L1557.7,602.0L1558.2,603.4L1558.7,604.8L1559.2,606.2L1559.7,607.6L1560.2,609.0L1560.7,610.4L1561.2,611.9L1561.7,613.3L1562.2,614.7L1562.7,616.1L1563.2,617.5L1563.7,618.9L1564.2,620.3L1564.7,621.7L1565.3,623.2L1565.8,624.6L1566.3,626.0L1566.8,627.4L1567.3,628.8L1567.8,630.2L1568.4,631.6L1568.9,633.0L1569.4,634.4L1569.9,635.8L1570.4,637.2L1571.0,638.6L1571.5,640.0L1572.0,641.5L1572.5,642.9L1573.1,644.3L1573.6,645.7L1574.1,647.1L1574.7,648.5L1575.2,649.9L1575.7,651.3L1576.3,652.7L1576.8,654.1L1577.4,655.5L1577.9,656.9L1578.4,658.3L1579.0,659.7L1579.5,661.1L1580.1,662.5L1580.6,663.9L1581.2,665.2L1581.7,666.6L1582.3,668.0L1582.8,669.4L1583.4,670.8L1583.9,672.2L1584.5,673.6L1585.0,675.0L1585.6,676.4L1586.1,677.8L1586.7,679.2L1587.2,680.6L1587.8,682.0L1588.3,683.4L1588.9,684.8L1589.4,686.2L1590.0,687.6L1590.5,689.0L1591.0,690.4L1591.6,691.8L1592.2,693.2L1592.7,694.5L1593.3,695.9L1594.0,697.3L1594.6,698.6L1595.3,699.9L1596.0,701.2L1596.8,702.5L1597.6,703.8L1598.5,705.0L1599.4,706.1L1600.4,707.3L1601.4,708.4L1606.0,709.3L1818.0,709.8" fill="none" stroke="#1414a8" stroke-width="5.0" stroke-linejoin="round" stroke-linecap="butt"/><path d="M310.0,93.2L311.5,93.3L313.0,93.5L314.5,93.6L316.0,93.7L317.5,93.8L318.9,93.9L320.4,94.0L321.9,94.1L323.4,94.2L324.9,94.2L326.4,94.3L327.9,94.3L329.4,94.4L330.9,94.4L332.4,94.5L333.9,94.5L335.4,94.6L336.9,94.6L338.4,94.6L339.9,94.6L341.4,94.7L342.9,94.7L344.4,94.7L345.9,94.7L347.4,94.7L348.9,94.7L350.4,94.7L351.9,94.7L353.4,94.7L354.9,94.8L356.4,94.8L357.9,94.8L359.4,94.8L360.9,94.8L362.4,94.8L363.9,94.8L365.4,94.8L366.9,94.8L368.4,94.8L369.9,94.8L371.4,94.8L372.9,94.8L374.4,94.9L375.9,94.9L377.4,94.9L378.9,94.9L380.4,94.9L381.9,94.9L383.4,95.0L384.9,95.0L386.4,95.0L387.9,95.0L389.4,95.0L390.9,95.0L392.4,95.1L393.9,95.1L395.4,95.1L396.9,95.1L398.4,95.1L399.9,95.2L401.4,95.2L402.9,95.2L404.4,95.2L405.9,95.2L407.4,95.2L408.9,95.3L410.4,95.3L411.9,95.3L413.4,95.3L414.9,95.3L416.4,95.4L417.9,95.4L419.4,95.4L420.9,95.4L422.4,95.4L423.9,95.4L425.4,95.4L426.9,95.5L428.4,95.5L429.9,95.5L431.4,95.5L432.9,95.5L434.4,95.5L435.9,95.5L437.4,95.6L438.9,95.6L440.4,95.6L441.9,95.6L443.4,95.6L444.9,95.6L446.4,95.6L447.9,95.6L449.4,95.7L450.9,95.7L452.4,95.7L453.9,95.7L455.4,95.7L456.9,95.7L458.4,95.7L459.9,95.7L461.4,95.7L462.9,95.8L464.4,95.8L465.9,95.8L467.4,95.8L468.9,95.8L470.4,95.8L471.9,95.8L473.4,95.8L474.9,95.8L476.4,95.8L477.9,95.9L479.4,95.9L480.9,95.9L482.4,95.9L483.9,95.9L485.4,95.9L486.9,95.9L488.4,95.9L489.9,95.9L491.4,95.9L492.9,96.0L494.4,96.0L495.9,96.0L497.4,96.0L498.9,96.0L500.4,96.0L501.9,96.0L503.4,96.0L504.9,96.0L506.4,96.0L507.9,96.1L509.4,96.1L510.9,96.1L512.4,96.1L513.9,96.1L515.4,96.1L516.9,96.1L518.4,96.1L519.9,96.1L521.4,96.2L522.9,96.2L524.4,96.2L525.9,96.2L527.4,96.2L528.9,96.2L530.4,96.2L531.9,96.2L533.4,96.2L534.9,96.3L536.4,96.3L537.9,96.3L539.4,96.3L540.9,96.3L542.4,96.3L543.9,96.3L545.4,96.3L546.9,96.4L548.4,96.4L549.9,96.4L551.4,96.4L552.9,96.4L554.4,96.4L555.9,96.4L557.4,96.4L558.9,96.5L560.4,96.5L561.9,96.5L563.4,96.5L564.9,96.5L566.4,96.5L567.9,96.5L569.4,96.6L570.9,96.6L572.4,96.6L573.9,96.6L575.4,96.6L576.9,96.6L578.4,96.6L579.9,96.7L581.4,96.7L582.9,96.7L584.4,96.7L585.9,96.7L587.4,96.7L588.9,96.7L590.4,96.8L591.9,96.8L593.4,96.8L594.9,96.8L596.4,96.8L597.9,96.8L599.4,96.8L600.9,96.9L602.4,96.9L603.9,96.9L605.4,96.9L606.9,96.9L608.4,96.9L609.9,97.0L611.4,97.0L612.9,97.0L614.4,97.0L615.9,97.0L617.4,97.0L618.9,97.0L620.4,97.1L621.9,97.1L623.4,97.1L624.9,97.1L626.4,97.1L627.9,97.1L629.4,97.2L630.9,97.2L632.4,97.2L633.9,97.2L635.4,97.2L636.9,97.2L638.4,97.3L639.9,97.3L641.4,97.3L642.9,97.3L644.4,97.3L645.9,97.3L647.4,97.4L648.9,97.4L650.4,97.4L651.9,97.4L653.4,97.4L654.9,97.4L656.4,97.5L657.9,97.5L659.4,97.5L660.9,97.5L662.4,97.5L663.9,97.6L665.4,97.6L666.9,97.6L668.4,97.6L669.9,97.6L671.4,97.6L672.9,97.7L674.4,97.7L675.9,97.7L677.4,97.7L678.9,97.7L680.4,97.7L681.9,97.8L683.4,97.8L684.9,97.8L686.4,97.8L687.9,97.8L689.4,97.9L690.9,97.9L692.4,97.9L693.9,97.9L695.4,97.9L696.9,97.9L698.4,98.0L699.9,98.0L701.4,98.0L702.9,98.0L704.4,98.0L705.9,98.1L707.4,98.1L708.9,98.1L710.4,98.1L711.9,98.1L713.4,98.2L714.9,98.2L716.4,98.2L717.9,98.2L719.4,98.2L720.9,98.3L722.4,98.3L723.9,98.3L725.4,98.3L726.9,98.3L728.4,98.3L729.9,98.4L731.4,98.4L732.9,98.4L734.4,98.4L735.9,98.4L737.4,98.5L738.9,98.5L740.4,98.5L741.9,98.5L743.4,98.5L744.9,98.6L746.4,98.6L747.9,98.6L749.4,98.6L750.9,98.6L752.4,98.7L753.9,98.7L755.4,98.7L756.9,98.7L758.4,98.7L759.9,98.8L761.4,98.8L762.9,98.8L764.4,98.8L765.9,98.8L767.4,98.9L768.9,98.9L770.4,98.9L771.9,98.9L773.4,98.9L774.9,99.0L776.4,99.0L777.9,99.0L779.4,99.0L780.9,99.0L782.4,99.1L783.9,99.1L785.4,99.1L786.9,99.1L788.4,99.1L789.8,99.2L791.3,99.2L792.8,99.2L794.3,99.2L795.8,99.3L797.3,99.3L798.8,99.3L800.3,99.3L801.8,99.3L803.3,99.4L804.8,99.4L806.3,99.4L807.8,99.4L809.3,99.4L810.8,99.5L812.3,99.5L813.8,99.5L815.3,99.5L816.8,99.5L818.3,99.6L819.8,99.6L821.3,99.6L822.8,99.6L824.3,99.7L825.8,99.7L827.3,99.7L828.8,99.7L830.3,99.7L831.8,99.8L833.3,99.8L834.8,99.8L836.3,99.8L837.8,99.9L839.3,99.9L840.8,99.9L842.3,99.9L843.8,99.9L845.3,100.0L846.8,100.0L848.3,100.0L849.8,100.0L851.3,100.0L852.8,100.1L854.3,100.1L855.8,100.1L857.3,100.1L858.8,100.2L860.3,100.2L861.8,100.2L863.3,100.2L864.8,100.2L866.3,100.3L867.8,100.3L869.3,100.3L870.8,100.3L872.3,100.4L873.8,100.4L875.3,100.4L876.8,100.4L878.3,100.5L879.8,100.5L881.3,100.5L882.8,100.5L884.3,100.5L885.8,100.6L887.3,100.6L888.8,100.6L890.3,100.6L891.8,100.7L893.3,100.7L894.8,100.7L896.3,100.7L897.8,100.8L899.3,100.8L900.8,100.8L902.3,100.8L903.8,100.8L905.3,100.9L906.8,100.9L908.3,100.9L909.8,100.9L911.3,101.0L912.8,101.0L914.3,101.0L915.8,101.0L917.3,101.1L918.8,101.1L920.3,101.1L921.8,101.1L923.3,101.1L924.8,101.2L926.3,101.2L927.8,101.2L929.3,101.2L930.8,101.3L932.3,101.3L933.8,101.3L935.3,101.3L936.8,101.4L938.3,101.4L939.8,101.4L941.3,101.4L942.8,101.5L944.3,101.5L945.8,101.5L947.3,101.5L948.8,101.6L950.3,101.6L951.8,101.6L953.3,101.6L954.8,101.7L956.3,101.7L957.8,101.7L959.3,101.7L960.8,101.7L962.3,101.8L963.8,101.8L965.3,101.8L966.8,101.8L968.3,101.9L969.8,101.9L971.3,101.9L972.8,101.9L974.3,102.0L975.8,102.0L977.3,102.0L978.8,102.0L980.3,102.1L981.8,102.1L983.3,102.1L984.8,102.1L986.3,102.2L987.8,102.2L989.3,102.2L990.8,102.2L992.3,102.3L993.8,102.3L995.3,102.3L996.8,102.3L998.3,102.4L999.8,102.4L1001.3,102.4L1002.8,102.4L1004.3,102.5L1005.8,102.5L1007.3,102.5L1008.8,102.5L1010.3,102.6L1011.8,102.6L1013.3,102.6L1014.8,102.6L1016.3,102.7L1017.8,102.7L1019.3,102.7L1020.8,102.7L1022.3,102.8L1023.8,102.8L1025.3,102.8L1026.8,102.9L1028.3,102.9L1029.8,102.9L1031.3,102.9L1032.8,103.0L1034.3,103.0L1035.8,103.0L1037.3,103.0L1038.8,103.1L1040.3,103.1L1041.8,103.1L1043.3,103.1L1044.8,103.2L1046.3,103.2L1047.8,103.2L1049.3,103.2L1050.8,103.3L1052.3,103.3L1053.8,103.3L1055.3,103.3L1056.8,103.4L1058.3,103.4L1059.8,103.4L1061.3,103.4L1062.8,103.5L1064.3,103.5L1065.8,103.5L1067.3,103.6L1068.8,103.6L1070.3,103.6L1071.8,103.6L1073.3,103.7L1074.8,103.7L1076.3,103.7L1077.8,103.7L1079.3,103.8L1080.8,103.8L1082.3,103.8L1083.8,103.8L1085.3,103.9L1086.8,103.9L1088.3,103.9L1089.8,104.0L1091.3,104.0L1092.8,104.0L1094.3,104.0L1095.8,104.1L1097.3,104.1L1098.8,104.1L1100.3,104.1L1101.8,104.2L1103.3,104.2L1104.8,104.2L1106.3,104.3L1107.8,104.3L1109.3,104.3L1110.8,104.3L1112.3,104.4L1113.8,104.4L1115.3,104.4L1116.8,104.4L1118.3,104.5L1119.8,104.5L1121.3,104.5L1122.8,104.6L1124.3,104.6L1125.8,104.6L1127.3,104.6L1128.8,104.7L1130.3,104.7L1131.8,104.7L1133.3,104.8L1134.8,104.8L1136.3,104.8L1137.8,104.9L1139.3,104.9L1140.8,104.9L1142.3,105.0L1143.8,105.0L1145.3,105.1L1146.8,105.1L1148.3,105.1L1149.8,105.2L1151.3,105.2L1152.8,105.3L1154.3,105.3L1155.8,105.3L1157.3,105.4L1158.8,105.4L1160.3,105.5L1161.8,105.5L1163.3,105.6L1164.8,105.6L1166.3,105.7L1167.8,105.7L1169.3,105.8L1170.8,105.8L1172.3,105.9L1173.8,105.9L1175.3,106.0L1176.8,106.1L1178.3,106.1L1179.8,106.2L1181.3,106.2L1182.8,106.3L1184.3,106.4L1185.8,106.4L1187.3,106.5L1188.8,106.6L1190.3,106.7L1191.8,106.7L1193.3,106.8L1194.7,106.9L1196.2,107.0L1197.7,107.0L1199.2,107.1L1200.7,107.2L1202.2,107.3L1203.7,107.4L1205.2,107.5L1206.7,107.6L1208.2,107.7L1209.7,107.8L1211.2,107.9L1212.7,108.0L1214.2,108.1L1215.7,108.2L1217.2,108.3L1218.7,108.4L1220.2,108.5L1221.7,108.6L1223.2,108.7L1224.6,108.8L1226.1,108.9L1227.6,109.1L1229.1,109.2L1230.6,109.3L1232.1,109.4L1233.6,109.6L1235.1,109.7L1236.6,109.8L1238.1,110.0L1239.6,110.1L1241.1,110.3L1242.5,110.4L1244.0,110.6L1245.5,110.7L1247.0,110.9L1248.5,111.0L1250.0,111.2L1251.5,111.3L1253.0,111.5L1254.5,111.7L1256.0,111.8L1257.4,112.0L1258.9,112.2L1260.4,112.4L1261.9,112.6L1263.4,112.7L1264.9,112.9L1266.4,113.1L1267.9,113.3L1269.3,113.5L1270.8,113.7L1272.3,113.9L1273.8,114.1L1275.3,114.3L1276.8,114.5L1278.3,114.8L1279.7,115.0L1281.2,115.2L1282.7,115.4L1284.2,115.7L1285.7,115.9L1287.2,116.1L1288.6,116.4L1290.1,116.6L1291.6,116.9L1293.1,117.1L1294.6,117.4L1296.0,117.6L1297.5,117.9L1299.0,118.1L1300.5,118.4L1302.0,118.7L1303.4,119.0L1304.9,119.2L1306.4,119.5L1307.9,119.8L1309.4,120.1L1310.8,120.4L1312.3,120.7L1313.8,121.0L1315.3,121.3L1316.7,121.6L1318.2,121.9L1319.7,122.3L1321.1,122.6L1322.6,122.9L1324.1,123.3L1325.6,123.6L1327.0,123.9L1328.5,124.3L1329.9,124.6L1331.4,125.0L1332.9,125.4L1334.3,125.8L1335.8,126.1L1337.2,126.5L1338.7,126.9L1340.1,127.3L1341.6,127.7L1343.0,128.1L1344.5,128.5L1345.9,129.0L1347.3,129.4L1348.8,129.8L1350.2,130.3L1351.6,130.7L1353.1,131.2L1354.5,131.6L1355.9,132.1L1357.3,132.6L1358.7,133.1L1360.1,133.6L1361.6,134.1L1363.0,134.6L1364.4,135.1L1365.8,135.6L1367.1,136.1L1368.5,136.7L1369.9,137.2L1371.3,137.8L1372.7,138.4L1374.1,138.9L1375.4,139.5L1376.8,140.1L1378.2,140.7L1379.5,141.3L1380.9,141.9L1382.2,142.5L1383.6,143.2L1384.9,143.8L1386.2,144.5L1387.6,145.1L1388.9,145.8L1390.2,146.5L1391.5,147.2L1392.8,147.9L1394.1,148.6L1395.4,149.3L1396.7,150.0L1398.0,150.8L1399.3,151.5L1400.6,152.3L1401.8,153.1L1403.1,153.9L1404.4,154.6L1405.6,155.4L1406.9,156.3L1408.1,157.1L1409.3,157.9L1410.6,158.8L1411.8,159.6L1413.0,160.5L1414.2,161.3L1415.5,162.2L1416.7,163.1L1417.9,164.0L1419.0,164.9L1420.2,165.8L1421.4,166.7L1422.6,167.7L1423.8,168.6L1424.9,169.5L1426.1,170.5L1427.2,171.5L1428.4,172.4L1429.5,173.4L1430.7,174.4L1431.8,175.4L1432.9,176.4L1434.0,177.4L1435.1,178.4L1436.2,179.4L1437.3,180.5L1438.4,181.5L1439.5,182.5L1440.6,183.6L1441.7,184.6L1442.8,185.7L1443.8,186.8L1444.9,187.9L1445.9,188.9L1447.0,190.0L1448.0,191.1L1449.1,192.2L1450.1,193.3L1451.1,194.4L1452.1,195.6L1453.2,196.7L1454.2,197.8L1455.2,198.9L1456.2,200.1L1457.2,201.2L1458.1,202.4L1459.1,203.5L1460.1,204.7L1461.1,205.8L1462.0,207.0L1463.0,208.2L1463.9,209.4L1464.9,210.5L1465.8,211.7L1466.7,212.9L1467.6,214.1L1468.6,215.3L1469.5,216.5L1470.4,217.7L1471.3,218.9L1472.2,220.1L1473.1,221.4L1473.9,222.6L1474.8,223.8L1475.7,225.0L1476.6,226.2L1477.4,227.5L1478.3,228.7L1479.1,229.9L1479.9,231.2L1480.8,232.4L1481.6,233.7L1482.4,234.9L1483.3,236.2L1484.1,237.4L1484.9,238.7L1485.7,240.0L1486.5,241.2L1487.3,242.5L1488.1,243.8L1488.8,245.0L1489.6,246.3L1490.4,247.6L1491.2,248.9L1491.9,250.2L1492.7,251.4L1493.4,252.7L1494.2,254.0L1494.9,255.3L1495.7,256.6L1496.4,257.9L1497.1,259.2L1497.9,260.5L1498.6,261.8L1499.3,263.1L1500.0,264.5L1500.7,265.8L1501.4,267.1L1502.1,268.4L1502.8,269.7L1503.5,271.1L1504.2,272.4L1504.9,273.7L1505.6,275.0L1506.3,276.4L1506.9,277.7L1507.6,279.0L1508.3,280.4L1508.9,281.7L1509.6,283.1L1510.2,284.4L1510.9,285.7L1511.5,287.1L1512.2,288.4L1512.8,289.8L1513.5,291.1L1514.1,292.5L1514.7,293.9L1515.4,295.2L1516.0,296.6L1516.6,297.9L1517.2,299.3L1517.8,300.7L1518.4,302.0L1519.1,303.4L1519.7,304.8L1520.3,306.1L1520.9,307.5L1521.5,308.9L1522.1,310.3L1522.7,311.6L1523.3,313.0L1523.8,314.4L1524.4,315.8L1525.0,317.2L1525.6,318.5L1526.2,319.9L1526.8,321.3L1527.3,322.7L1527.9,324.1L1528.5,325.5L1529.0,326.8L1529.6,328.2L1530.2,329.6L1530.7,331.0L1531.3,332.4L1531.9,333.8L1532.4,335.2L1533.0,336.6L1533.5,338.0L1534.1,339.4L1534.6,340.8L1535.2,342.2L1535.8,343.6L1536.3,345.0L1536.8,346.4L1537.4,347.8L1537.9,349.2L1538.5,350.6L1539.0,352.0L1539.6,353.4L1540.1,354.8L1540.6,356.2L1541.2,357.6L1541.7,359.0L1542.3,360.4L1542.8,361.8L1543.3,363.2L1543.9,364.6L1544.4,366.0L1544.9,367.4L1545.5,368.8L1546.0,370.2L1546.5,371.6L1547.1,373.0L1547.6,374.4L1548.1,375.8L1548.7,377.2L1549.2,378.6L1549.7,380.0L1550.3,381.4L1550.8,382.8L1551.3,384.2L1551.9,385.6L1552.4,387.0L1552.9,388.4L1553.5,389.8L1554.0,391.2L1554.5,392.6L1555.1,394.0L1555.6,395.4L1556.1,396.8L1556.7,398.2L1557.2,399.6L1557.7,401.0L1558.3,402.4L1558.8,403.8L1559.3,405.2L1559.9,406.6L1560.4,408.0L1561.0,409.4L1561.5,410.8L1562.0,412.2L1562.6,413.6L1563.1,415.0L1563.7,416.4L1564.2,417.8L1564.7,419.2L1565.3,420.6L1565.8,422.0L1566.4,423.4L1566.9,424.8L1567.4,426.2L1568.0,427.5L1568.5,428.9L1569.0,430.3L1569.6,431.7L1570.1,433.1L1570.6,434.5L1571.2,435.9L1571.7,437.3L1572.2,438.7L1572.8,440.1L1573.3,441.5L1573.8,443.0L1574.3,444.4L1574.9,445.8L1575.4,447.2L1575.9,448.6L1576.4,450.0L1577.0,451.4L1577.5,452.8L1578.0,454.2L1578.5,455.6L1579.0,457.1L1579.5,458.5L1580.0,459.9L1580.6,461.3L1581.1,462.7L1581.6,464.1L1582.1,465.6L1582.6,467.0L1583.1,468.4L1583.6,469.8L1584.1,471.2L1584.7,472.6L1585.2,474.1L1585.7,475.5L1586.2,476.9L1586.7,478.3L1587.2,479.7L1587.7,481.1L1588.3,482.5L1588.8,484.0L1589.3,485.4L1589.8,486.8L1590.3,488.2L1590.9,489.6L1591.4,491.0L1591.9,492.4L1592.4,493.8L1593.0,495.2L1593.5,496.6L1594.0,498.0L1594.6,499.4L1595.1,500.8L1595.6,502.2L1596.2,503.6L1596.7,505.0L1597.3,506.4L1597.8,507.8L1598.3,509.2L1598.9,510.6L1599.4,511.9L1600.0,513.3L1600.5,514.7L1601.1,516.1L1601.6,517.5L1602.1,518.9L1602.7,520.3L1603.2,521.7L1603.8,523.1L1604.3,524.5L1604.8,525.9L1605.4,527.3L1605.9,528.7L1606.5,530.0L1607.0,531.4L1607.5,532.8L1608.1,534.2L1608.6,535.6L1609.1,537.0L1609.7,538.5L1610.2,539.9L1610.7,541.3L1611.3,542.7L1611.8,544.1L1612.4,545.5L1612.9,546.8L1613.5,548.2L1614.1,549.6L1614.7,551.0L1615.4,552.3L1616.1,553.6L1616.8,555.0L1617.5,556.3L1618.3,557.6L1619.1,558.9L1619.9,560.1L1620.8,561.4L1621.7,562.6L1622.7,563.7L1623.7,564.8L1624.8,565.8L1625.9,566.8L1627.1,567.7L1628.3,568.4L1629.6,569.1L1631.0,569.6L1632.4,570.1L1633.9,570.4L1635.4,570.6L1637.0,570.6L1638.6,570.5L1818.0,570.8" fill="none" stroke="#038a8a" stroke-width="5.0" stroke-linejoin="round" stroke-linecap="butt"/><rect x="309.6" y="40.6" width="1527.4" height="1121.3000000000002" fill="none" stroke="#111" stroke-width="4.6"/><path d="M285.1,1161.9H309.6 M296.1,1055.0H309.6 M285.1,948.1H309.6 M296.1,841.1H309.6 M285.1,734.2H309.6 M296.1,627.3H309.6 M285.1,520.4H309.6 M296.1,413.5H309.6 M285.1,306.5H309.6 M296.1,199.6H309.6 M285.1,92.7H309.6 M331.8,1161.9V1175.4 M447.6,1161.9V1186.4 M563.5,1161.9V1175.4 M679.3,1161.9V1186.4 M795.2,1161.9V1175.4 M911.0,1161.9V1186.4 M1026.8,1161.9V1175.4 M1142.7,1161.9V1186.4 M1258.6,1161.9V1175.4 M1374.4,1161.9V1186.4 M1490.2,1161.9V1175.4 M1606.1,1161.9V1186.4 M1722.0,1161.9V1175.4 M1837.8,1161.9V1186.4" stroke="#111" stroke-width="3.8" fill="none"/><text transform="translate(269.5,1179.3) scale(0.95,1)" text-anchor="end" font-family='"Liberation Sans", Arial, Helvetica, sans-serif' font-size="63" fill="#000">0</text><text transform="translate(269.5,965.5) scale(0.95,1)" text-anchor="end" font-family='"Liberation Sans", Arial, Helvetica, sans-serif' font-size="63" fill="#000">20</text><text transform="translate(269.5,751.6) scale(0.95,1)" text-anchor="end" font-family='"Liberation Sans", Arial, Helvetica, sans-serif' font-size="63" fill="#000">40</text><text transform="translate(269.5,537.8) scale(0.95,1)" text-anchor="end" font-family='"Liberation Sans", Arial, Helvetica, sans-serif' font-size="63" fill="#000">60</text><text transform="translate(269.5,323.9) scale(0.95,1)" text-anchor="end" font-family='"Liberation Sans", Arial, Helvetica, sans-serif' font-size="63" fill="#000">80</text><text transform="translate(269.5,110.1) scale(0.95,1)" text-anchor="end" font-family='"Liberation Sans", Arial, Helvetica, sans-serif' font-size="63" fill="#000">100</text><text transform="translate(447.1,1249) scale(0.95,1)" text-anchor="middle" font-family='"Liberation Sans", Arial, Helvetica, sans-serif' font-size="63.5" fill="#000">100</text><text transform="translate(678.8,1249) scale(0.95,1)" text-anchor="middle" font-family='"Liberation Sans", Arial, Helvetica, sans-serif' font-size="63.5" fill="#000">200</text><text transform="translate(910.5,1249) scale(0.95,1)" text-anchor="middle" font-family='"Liberation Sans", Arial, Helvetica, sans-serif' font-size="63.5" fill="#000">300</text><text transform="translate(1142.2,1249) scale(0.95,1)" text-anchor="middle" font-family='"Liberation Sans", Arial, Helvetica, sans-serif' font-size="63.5" fill="#000">400</text><text transform="translate(1373.9,1249) scale(0.95,1)" text-anchor="middle" font-family='"Liberation Sans", Arial, Helvetica, sans-serif' font-size="63.5" fill="#000">500</text><text transform="translate(1605.6,1249) scale(0.95,1)" text-anchor="middle" font-family='"Liberation Sans", Arial, Helvetica, sans-serif' font-size="63.5" fill="#000">600</text><text transform="translate(1837.3,1249) scale(0.95,1)" text-anchor="middle" font-family='"Liberation Sans", Arial, Helvetica, sans-serif' font-size="63.5" fill="#000">700</text><text x="798" y="1362.7" font-family='"Liberation Sans", Arial, Helvetica, sans-serif' font-size="73" fill="#000">Temperature (<tspan font-size="78" dx="-5" dy="9" fill="#5a5a5a">&#176;</tspan><tspan dy="-9" dx="-3">C)</tspan></text><text transform="translate(78.6,625.5) rotate(-90)" text-anchor="middle" font-family='"Liberation Sans", Arial, Helvetica, sans-serif' font-size="72" fill="#000">Mass (wt %)</text><path d="M359,238.8H490" stroke="#000000" stroke-width="5.2"/><text x="501.5" y="257.6" font-family='"Liberation Sans", Arial, Helvetica, sans-serif' font-size="61.5" fill="#000">NiFe<tspan font-size="36" dy="23.6" fill="#262626">2</tspan><tspan dy="-23.6">O</tspan><tspan font-size="36" dy="23.6" fill="#262626">4</tspan><tspan dy="-23.6">/CCF-1</tspan></text><path d="M359,334.4H490" stroke="#dc282c" stroke-width="5.2"/><text x="501.5" y="353.2" font-family='"Liberation Sans", Arial, Helvetica, sans-serif' font-size="61.5" fill="#000">NiFe<tspan font-size="36" dy="23.6" fill="#262626">2</tspan><tspan dy="-23.6">O</tspan><tspan font-size="36" dy="23.6" fill="#262626">4</tspan><tspan dy="-23.6">/CCF-2</tspan></text><path d="M359,430.0H490" stroke="#1414a8" stroke-width="5.2"/><text x="501.5" y="448.8" font-family='"Liberation Sans", Arial, Helvetica, sans-serif' font-size="61.5" fill="#000">NiFe<tspan font-size="36" dy="23.6" fill="#262626">2</tspan><tspan dy="-23.6">O</tspan><tspan font-size="36" dy="23.6" fill="#262626">4</tspan><tspan dy="-23.6">/CCF-3</tspan></text><path d="M359,525.6H490" stroke="#038a8a" stroke-width="5.2"/><text x="501.5" y="544.4" font-family='"Liberation Sans", Arial, Helvetica, sans-serif' font-size="61.5" fill="#000">NiFe<tspan font-size="36" dy="23.6" fill="#262626">2</tspan><tspan dy="-23.6">O</tspan><tspan font-size="36" dy="23.6" fill="#262626">4</tspan><tspan dy="-23.6">/CCF-4</tspan></text></svg>
</body></html>
